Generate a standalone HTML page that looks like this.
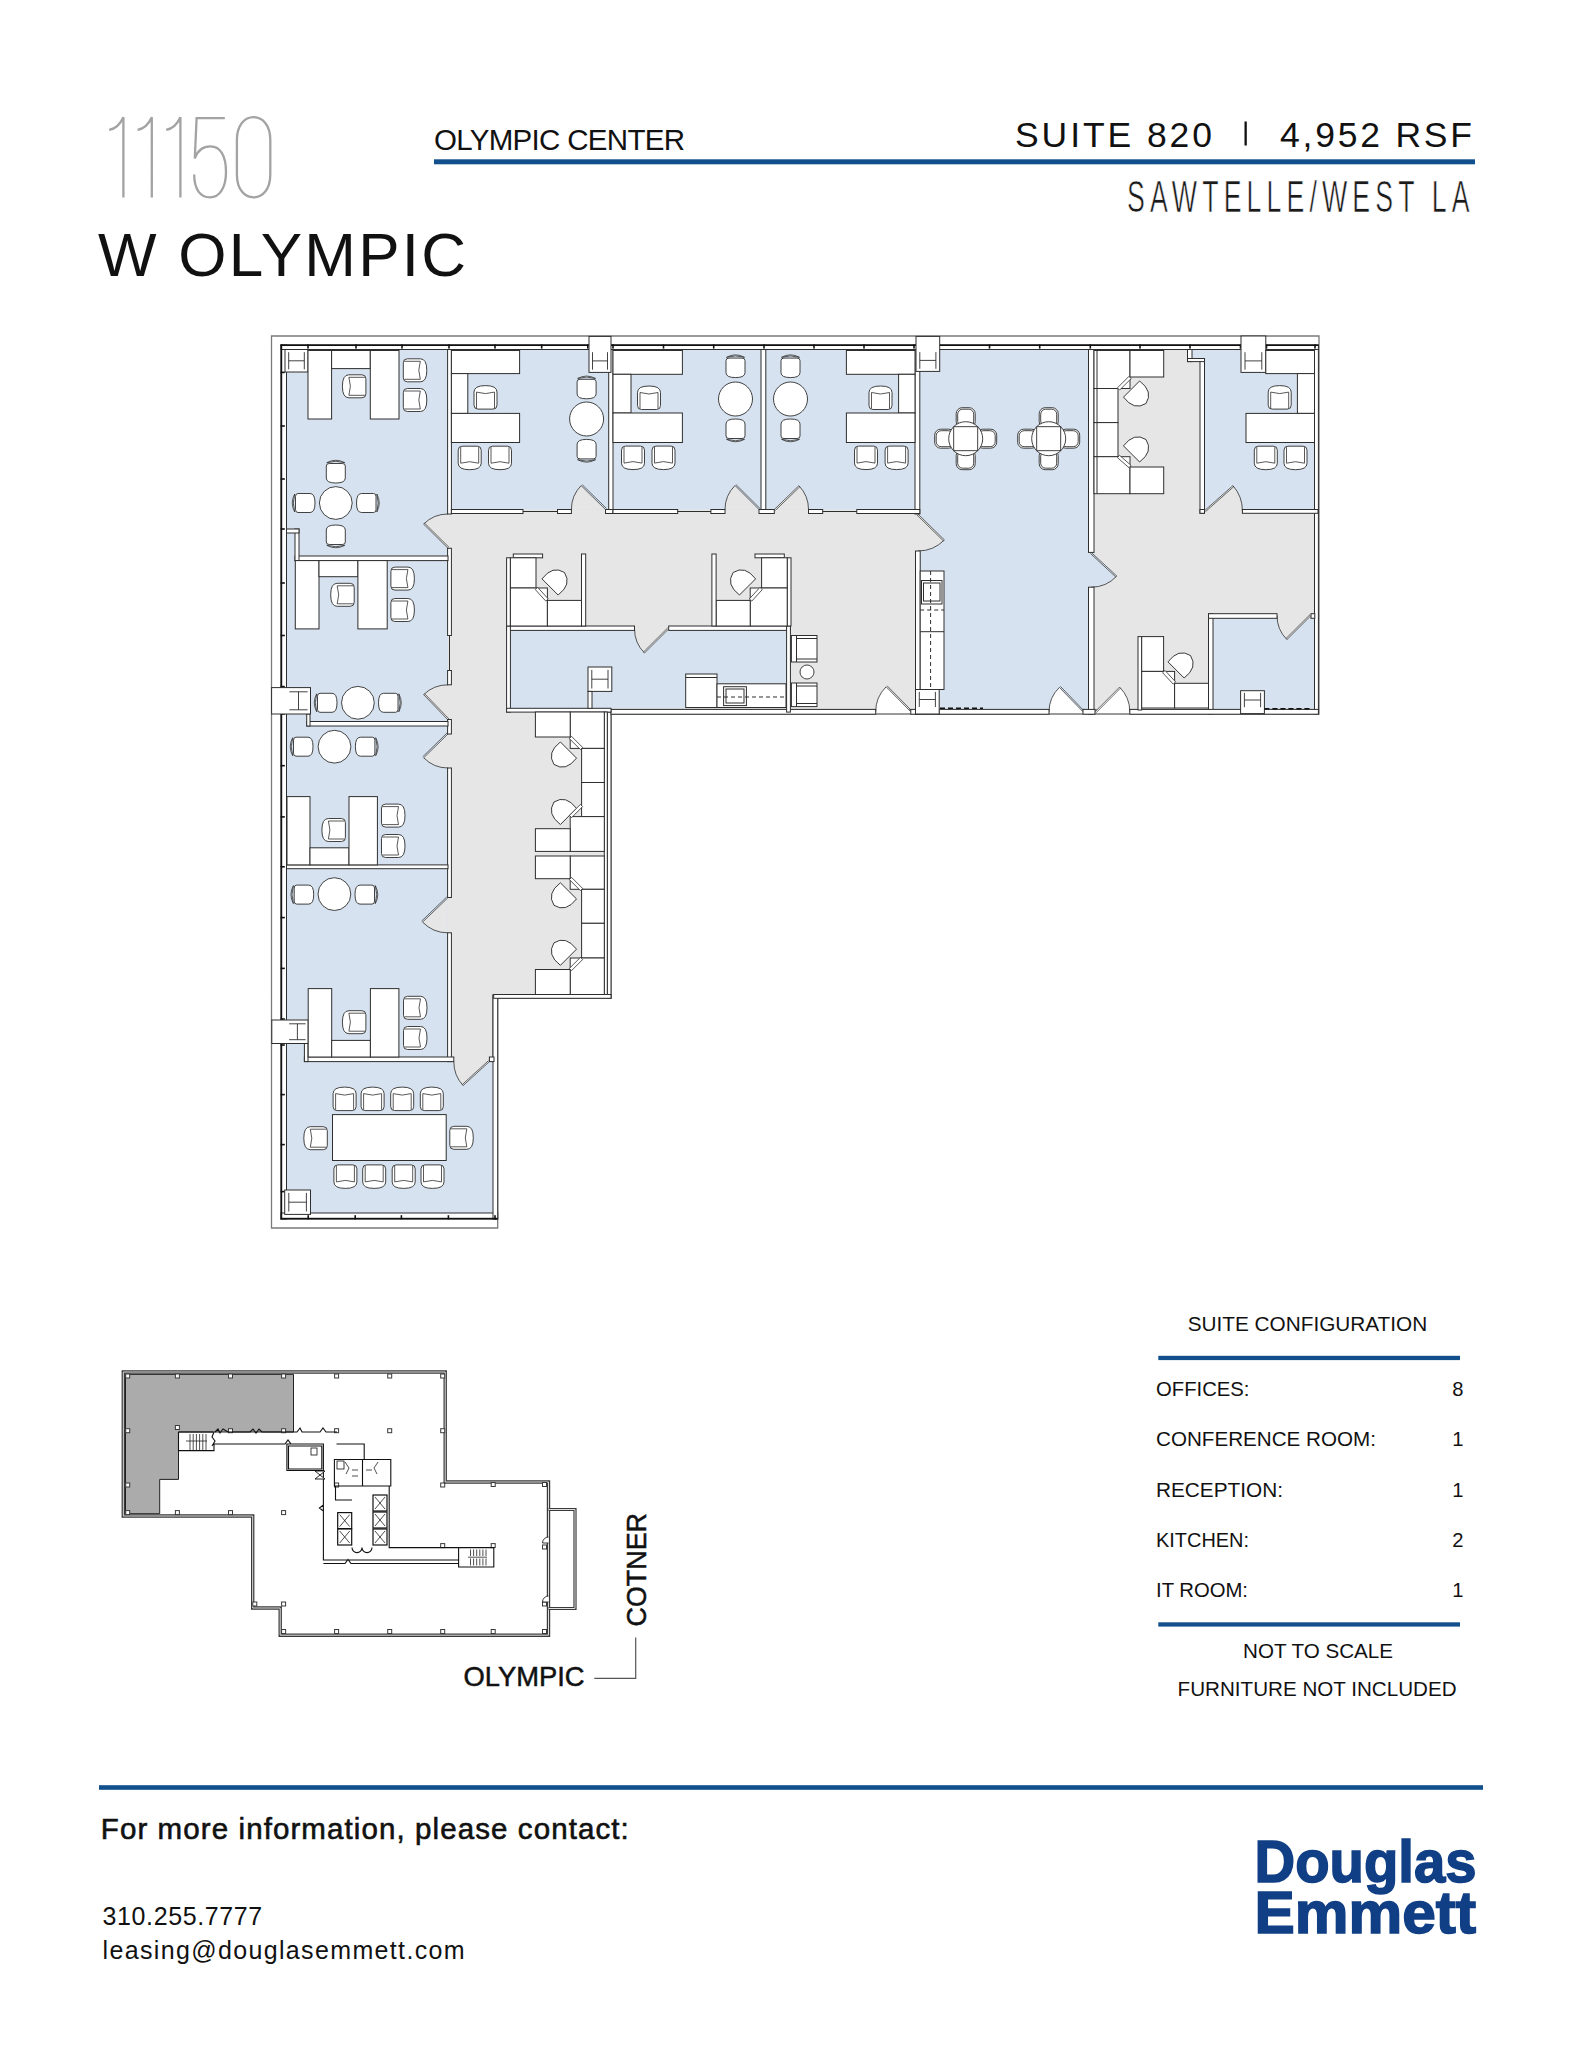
<!DOCTYPE html>
<html><head><meta charset="utf-8"><title>11150 W Olympic - Suite 820</title>
<style>html,body{margin:0;padding:0;background:#fff;width:1583px;height:2048px;overflow:hidden}svg{display:block}</style>
</head><body>
<svg width="1583" height="2048" viewBox="0 0 1583 2048">
<path d="M123.4,197.4 L123.4,117.2 C119.4,126 114.4,129 109.2,129.8 M151.8,197.4 L151.8,117.2 C147.8,126 142.8,129 137.6,129.8 M180.4,197.4 L180.4,117.2 C176.4,126 171.4,129 166.2,129.8 M224.8,118.2 L196.6,118.2 L194.8,158.5 C198,149 204,146.3 210.4,146.3 C220.5,146.3 226,156 226,172 C226,188 219.5,197.4 210,197.4 C200,197.4 194.2,189 194.2,174.6 M253.6,117.2 C262.5,117.2 270.3,125 270.3,140 L270.3,174.5 C270.3,189.5 262.5,197.4 253.6,197.4 C244.7,197.4 236.9,189.5 236.9,174.5 L236.9,140 C236.9,125 244.7,117.2 253.6,117.2 Z" fill="none" stroke="#a3a3a3" stroke-width="2.3"/>
<text x="98" y="276" font-family="Liberation Sans, sans-serif" font-size="62" textLength="368" lengthAdjust="spacing" fill="#111">W OLYMPIC</text>
<text x="434" y="149.8" font-family="Liberation Sans, sans-serif" font-size="29.5" textLength="251" lengthAdjust="spacing" fill="#111">OLYMPIC CENTER</text>
<rect x="434" y="159.3" width="1041" height="5" fill="#11508c"/>
<text x="1015" y="146.5" font-family="Liberation Sans, sans-serif" font-size="35.5" textLength="197" lengthAdjust="spacing" fill="#111">SUITE 820</text>
<rect x="1244.5" y="121.5" width="2.3" height="24" fill="#111"/>
<text x="1280" y="146.5" font-family="Liberation Sans, sans-serif" font-size="35.5" textLength="192" lengthAdjust="spacing" fill="#111">4,952 RSF</text>
<text transform="translate(1127,211.5) scale(0.6,1)" x="0" y="0" font-family="Liberation Sans, sans-serif" font-size="44.5" textLength="570.8" lengthAdjust="spacing" fill="#1a1a1a" stroke="#fff" stroke-width="0.7">SAWTELLE/WEST LA</text>
<text x="1187.7" y="1330.5" font-family="Liberation Sans, sans-serif" font-size="20.2" textLength="239.5" lengthAdjust="spacingAndGlyphs" fill="#111">SUITE CONFIGURATION</text>
<rect x="1158.3" y="1355.8" width="301.7" height="4.3" fill="#11508c"/>
<text x="1156" y="1396.2" font-family="Liberation Sans, sans-serif" font-size="20.2" textLength="93.5" lengthAdjust="spacingAndGlyphs" fill="#111">OFFICES:</text>
<text x="1463.5" y="1396.2" font-family="Liberation Sans, sans-serif" font-size="20.2" text-anchor="end" fill="#111">8</text>
<text x="1156" y="1446.2" font-family="Liberation Sans, sans-serif" font-size="20.2" textLength="220" lengthAdjust="spacingAndGlyphs" fill="#111">CONFERENCE ROOM:</text>
<text x="1463.5" y="1446.2" font-family="Liberation Sans, sans-serif" font-size="20.2" text-anchor="end" fill="#111">1</text>
<text x="1156" y="1496.6" font-family="Liberation Sans, sans-serif" font-size="20.2" textLength="127" lengthAdjust="spacingAndGlyphs" fill="#111">RECEPTION:</text>
<text x="1463.5" y="1496.6" font-family="Liberation Sans, sans-serif" font-size="20.2" text-anchor="end" fill="#111">1</text>
<text x="1156" y="1546.8" font-family="Liberation Sans, sans-serif" font-size="20.2" textLength="93" lengthAdjust="spacingAndGlyphs" fill="#111">KITCHEN:</text>
<text x="1463.5" y="1546.8" font-family="Liberation Sans, sans-serif" font-size="20.2" text-anchor="end" fill="#111">2</text>
<text x="1156" y="1596.8" font-family="Liberation Sans, sans-serif" font-size="20.2" textLength="92" lengthAdjust="spacingAndGlyphs" fill="#111">IT ROOM:</text>
<text x="1463.5" y="1596.8" font-family="Liberation Sans, sans-serif" font-size="20.2" text-anchor="end" fill="#111">1</text>
<rect x="1158.3" y="1622.3" width="301.7" height="4.3" fill="#11508c"/>
<text x="1243" y="1658" font-family="Liberation Sans, sans-serif" font-size="20.2" textLength="150" lengthAdjust="spacingAndGlyphs" fill="#111">NOT TO SCALE</text>
<text x="1177.6" y="1695.7" font-family="Liberation Sans, sans-serif" font-size="20.2" textLength="279" lengthAdjust="spacingAndGlyphs" fill="#111">FURNITURE NOT INCLUDED</text>
<text x="463.6" y="1686.2" font-family="Liberation Sans, sans-serif" font-size="28" textLength="121" lengthAdjust="spacingAndGlyphs" fill="#111" stroke="#111" stroke-width="0.5">OLYMPIC</text>
<text transform="translate(645.7,1626.5) rotate(-90)" x="0" y="0" font-family="Liberation Sans, sans-serif" font-size="28" textLength="113.5" lengthAdjust="spacingAndGlyphs" fill="#111" stroke="#111" stroke-width="0.5">COTNER</text>
<path d="M594.3,1678.3 L635.7,1678.3 L635.7,1637.6" fill="none" stroke="#555" stroke-width="1.2"/>
<rect x="99" y="1785.2" width="1384" height="4.6" fill="#11508c"/>
<text x="100.8" y="1839" font-family="Liberation Sans, sans-serif" font-size="29.5" textLength="528" lengthAdjust="spacing" fill="#111" stroke="#111" stroke-width="0.6">For more information, please contact:</text>
<text x="102.6" y="1924.8" font-family="Liberation Sans, sans-serif" font-size="25" textLength="159.5" lengthAdjust="spacing" fill="#111">310.255.7777</text>
<text x="102.6" y="1959" font-family="Liberation Sans, sans-serif" font-size="25" textLength="362" lengthAdjust="spacing" fill="#111">leasing@douglasemmett.com</text>
<text x="1254.5" y="1882.2" font-family="Liberation Sans, sans-serif" font-size="60" font-weight="bold" textLength="222" lengthAdjust="spacingAndGlyphs" fill="#113f85" stroke="#113f85" stroke-width="1.6">Douglas</text>
<text x="1254.5" y="1933" font-family="Liberation Sans, sans-serif" font-size="60" font-weight="bold" textLength="221.5" lengthAdjust="spacingAndGlyphs" fill="#113f85" stroke="#113f85" stroke-width="1.6">Emmett</text>
<polygon points="271.5,336.0 1319.0,336.0 1319.0,714.0 611.0,714.0 611.0,998.3 497.7,998.3 497.7,1228.0 271.5,1228.0" fill="#fff" stroke="#7a7a7a" stroke-width="1.3"/>
<polygon points="286.5,349.5 1314.5,349.5 1314.5,710.0 607.3,710.0 607.3,994.5 493.0,994.5 493.0,1213.0 286.5,1213.0" fill="#e6e6e6" stroke="#2e2e2e" stroke-width="0.9"/>
<rect x="286.5" y="350.0" width="161.5" height="206.0" fill="#d6e2ef"/>
<rect x="286.5" y="533.0" width="161.5" height="189.0" fill="#d6e2ef"/>
<rect x="286.5" y="726.0" width="161.5" height="139.0" fill="#d6e2ef"/>
<rect x="286.5" y="868.7" width="161.5" height="188.3" fill="#d6e2ef"/>
<rect x="286.5" y="1061.6" width="206.5" height="151.4" fill="#d6e2ef"/>
<rect x="451.4" y="350.0" width="157.6" height="159.5" fill="#d6e2ef"/>
<rect x="613.0" y="350.0" width="148.0" height="159.5" fill="#d6e2ef"/>
<rect x="765.8" y="350.0" width="149.2" height="159.5" fill="#d6e2ef"/>
<rect x="919.8" y="350.0" width="168.7" height="360.0" fill="#d6e2ef"/>
<rect x="510.4" y="630.4" width="276.2" height="77.9" fill="#d6e2ef"/>
<rect x="1213.0" y="618.3" width="101.5" height="91.7" fill="#d6e2ef"/>
<rect x="286.5" y="714.0" width="20.2" height="12.0" fill="#d6e2ef"/>
<rect x="286.5" y="1043.5" width="17.9" height="18.1" fill="#d6e2ef"/>
<polygon points="1192.0,350.0 1314.5,350.0 1314.5,509.5 1204.5,509.5 1204.5,361.6 1192.0,361.6" fill="#d6e2ef" stroke="none" stroke-width="1.0"/>
<path d="M448.0,548.3 L423.6,524.1 A34.3,34.3 0 0 1 448.0,514.0 Z" fill="#e6e6e6" stroke="none"/>
<path d="M423.6,524.1 A34.3,34.3 0 0 1 448.0,514.0" fill="none" stroke="#2e2e2e" stroke-width="0.8"/>
<path d="M448.0,548.3 L423.6,524.1 M449.0,547.3 L424.6,523.2" fill="none" stroke="#2e2e2e" stroke-width="0.7"/>
<path d="M448.0,720.0 L423.6,694.6 A35.2,35.2 0 0 1 448.0,684.8 Z" fill="#e6e6e6" stroke="none"/>
<path d="M423.6,694.6 A35.2,35.2 0 0 1 448.0,684.8" fill="none" stroke="#2e2e2e" stroke-width="0.8"/>
<path d="M448.0,720.0 L423.6,694.6 M449.0,719.0 L424.6,693.7" fill="none" stroke="#2e2e2e" stroke-width="0.7"/>
<path d="M448.0,734.0 L423.7,757.8 A34.0,34.0 0 0 0 448.0,768.0 Z" fill="#e6e6e6" stroke="none"/>
<path d="M423.7,757.8 A34.0,34.0 0 0 0 448.0,768.0" fill="none" stroke="#2e2e2e" stroke-width="0.8"/>
<path d="M448.0,734.0 L423.7,757.8 M447.0,733.0 L422.7,756.8" fill="none" stroke="#2e2e2e" stroke-width="0.7"/>
<path d="M447.7,898.0 L422.6,922.1 A34.8,34.8 0 0 0 447.7,932.8 Z" fill="#e6e6e6" stroke="none"/>
<path d="M422.6,922.1 A34.8,34.8 0 0 0 447.7,932.8" fill="none" stroke="#2e2e2e" stroke-width="0.8"/>
<path d="M447.7,898.0 L422.6,922.1 M446.7,897.0 L421.6,921.1" fill="none" stroke="#2e2e2e" stroke-width="0.7"/>
<path d="M489.4,1061.6 L463.1,1085.6 A35.6,35.6 0 0 1 453.8,1061.6 Z" fill="#e6e6e6" stroke="none"/>
<path d="M463.1,1085.6 A35.6,35.6 0 0 1 453.8,1061.6" fill="none" stroke="#2e2e2e" stroke-width="0.8"/>
<path d="M489.4,1061.6 L463.1,1085.6 M488.5,1060.6 L462.2,1084.6" fill="none" stroke="#2e2e2e" stroke-width="0.7"/>
<path d="M605.5,509.5 L581.1,485.6 A34.1,34.1 0 0 0 571.4,509.5 Z" fill="#e6e6e6" stroke="none"/>
<path d="M581.1,485.6 A34.1,34.1 0 0 0 571.4,509.5" fill="none" stroke="#2e2e2e" stroke-width="0.8"/>
<path d="M605.5,509.5 L581.1,485.6 M606.5,508.5 L582.1,484.6" fill="none" stroke="#2e2e2e" stroke-width="0.7"/>
<path d="M759.0,509.5 L735.0,485.5 A34.0,34.0 0 0 0 725.0,509.5 Z" fill="#e6e6e6" stroke="none"/>
<path d="M735.0,485.5 A34.0,34.0 0 0 0 725.0,509.5" fill="none" stroke="#2e2e2e" stroke-width="0.8"/>
<path d="M759.0,509.5 L735.0,485.5 M760.0,508.5 L735.9,484.5" fill="none" stroke="#2e2e2e" stroke-width="0.7"/>
<path d="M774.3,509.5 L798.9,485.7 A34.2,34.2 0 0 1 808.5,509.5 Z" fill="#e6e6e6" stroke="none"/>
<path d="M798.9,485.7 A34.2,34.2 0 0 1 808.5,509.5" fill="none" stroke="#2e2e2e" stroke-width="0.8"/>
<path d="M774.3,509.5 L798.9,485.7 M775.3,510.5 L799.9,486.7" fill="none" stroke="#2e2e2e" stroke-width="0.7"/>
<path d="M918.0,514.0 L944.4,539.9 A37.0,37.0 0 0 1 918.0,551.0 Z" fill="#e6e6e6" stroke="none"/>
<path d="M944.4,539.9 A37.0,37.0 0 0 1 918.0,551.0" fill="none" stroke="#2e2e2e" stroke-width="0.8"/>
<path d="M918.0,514.0 L944.4,539.9 M917.0,515.0 L943.4,540.9" fill="none" stroke="#2e2e2e" stroke-width="0.7"/>
<path d="M668.7,628.9 L644.5,653.0 A34.2,34.2 0 0 1 634.5,628.9 Z" fill="#e6e6e6" stroke="none"/>
<path d="M644.5,653.0 A34.2,34.2 0 0 1 634.5,628.9" fill="none" stroke="#2e2e2e" stroke-width="0.8"/>
<path d="M668.7,628.9 L644.5,653.0 M667.7,627.9 L643.5,652.0" fill="none" stroke="#2e2e2e" stroke-width="0.7"/>
<path d="M1204.5,510.7 L1232.9,485.6 A37.9,37.9 0 0 1 1242.4,510.7 Z" fill="#e6e6e6" stroke="none"/>
<path d="M1232.9,485.6 A37.9,37.9 0 0 1 1242.4,510.7" fill="none" stroke="#2e2e2e" stroke-width="0.8"/>
<path d="M1204.5,510.7 L1232.9,485.6 M1205.4,511.7 L1233.8,486.6" fill="none" stroke="#2e2e2e" stroke-width="0.7"/>
<path d="M1311.0,615.6 L1286.9,639.6 A34.0,34.0 0 0 1 1277.0,615.6 Z" fill="#e6e6e6" stroke="none"/>
<path d="M1286.9,639.6 A34.0,34.0 0 0 1 1277.0,615.6" fill="none" stroke="#2e2e2e" stroke-width="0.8"/>
<path d="M1311.0,615.6 L1286.9,639.6 M1310.0,614.6 L1285.9,638.6" fill="none" stroke="#2e2e2e" stroke-width="0.7"/>
<rect x="1088.0" y="552.4" width="6.5" height="34.8" fill="#d6e2ef"/>
<path d="M1091.2,552.4 L1116.8,576.0 A34.8,34.8 0 0 1 1091.2,587.2 Z" fill="#d6e2ef" stroke="none"/>
<path d="M1116.8,576.0 A34.8,34.8 0 0 1 1091.2,587.2" fill="none" stroke="#2e2e2e" stroke-width="0.8"/>
<path d="M1091.2,552.4 L1116.8,576.0 M1090.3,553.4 L1115.8,577.0" fill="none" stroke="#2e2e2e" stroke-width="0.7"/>
<path d="M910.8,711.8 L886.1,686.8 A35.1,35.1 0 0 0 875.7,711.8 Z" fill="#fff" stroke="none"/>
<path d="M886.1,686.8 A35.1,35.1 0 0 0 875.7,711.8" fill="none" stroke="#2e2e2e" stroke-width="0.8"/>
<path d="M910.8,711.8 L886.1,686.8 M911.8,710.8 L887.1,685.8" fill="none" stroke="#2e2e2e" stroke-width="0.7"/>
<path d="M1083.0,711.8 L1059.4,687.4 A34.0,34.0 0 0 0 1049.0,711.8 Z" fill="#fff" stroke="none"/>
<path d="M1059.4,687.4 A34.0,34.0 0 0 0 1049.0,711.8" fill="none" stroke="#2e2e2e" stroke-width="0.8"/>
<path d="M1083.0,711.8 L1059.4,687.4 M1084.0,710.8 L1060.4,686.4" fill="none" stroke="#2e2e2e" stroke-width="0.7"/>
<path d="M1095.0,711.8 L1119.6,687.1 A34.8,34.8 0 0 1 1129.8,711.8 Z" fill="#fff" stroke="none"/>
<path d="M1119.6,687.1 A34.8,34.8 0 0 1 1129.8,711.8" fill="none" stroke="#2e2e2e" stroke-width="0.8"/>
<path d="M1095.0,711.8 L1119.6,687.1 M1096.0,712.8 L1120.5,688.1" fill="none" stroke="#2e2e2e" stroke-width="0.7"/>
<rect x="281.0" y="345.0" width="5.5" height="874.0" fill="#fff" stroke="#2e2e2e" stroke-width="1.0" />
<rect x="281.0" y="345.0" width="1037.4" height="4.5" fill="#fff" stroke="#2e2e2e" stroke-width="1.0" />
<rect x="281.0" y="1213.0" width="216.7" height="6.0" fill="#fff" stroke="#2e2e2e" stroke-width="1.0" />
<rect x="447.6" y="349.5" width="3.8" height="164.5" fill="#fff" stroke="#2e2e2e" stroke-width="1.0" />
<rect x="447.6" y="548.3" width="3.8" height="87.2" fill="#fff" stroke="#2e2e2e" stroke-width="1.0" />
<rect x="447.6" y="670.5" width="3.8" height="14.3" fill="#fff" stroke="#2e2e2e" stroke-width="1.0" />
<rect x="447.6" y="719.5" width="3.8" height="14.5" fill="#fff" stroke="#2e2e2e" stroke-width="1.0" />
<rect x="447.6" y="768.0" width="3.8" height="129.5" fill="#fff" stroke="#2e2e2e" stroke-width="1.0" />
<rect x="447.6" y="932.8" width="3.8" height="128.8" fill="#fff" stroke="#2e2e2e" stroke-width="1.0" />
<rect x="608.7" y="349.5" width="4.3" height="164.0" fill="#fff" stroke="#2e2e2e" stroke-width="1.0" />
<rect x="761.0" y="349.5" width="4.8" height="164.0" fill="#fff" stroke="#2e2e2e" stroke-width="1.0" />
<rect x="915.0" y="349.5" width="4.8" height="164.5" fill="#fff" stroke="#2e2e2e" stroke-width="1.0" />
<rect x="915.5" y="551.0" width="4.7" height="163.0" fill="#fff" stroke="#2e2e2e" stroke-width="1.0" />
<rect x="1088.5" y="349.5" width="5.5" height="202.9" fill="#fff" stroke="#2e2e2e" stroke-width="1.0" />
<rect x="1088.5" y="587.2" width="5.5" height="126.8" fill="#fff" stroke="#2e2e2e" stroke-width="1.0" />
<rect x="1200.0" y="358.5" width="4.5" height="154.8" fill="#fff" stroke="#2e2e2e" stroke-width="1.0" />
<rect x="1187.5" y="349.5" width="4.5" height="12.1" fill="#fff" stroke="#2e2e2e" stroke-width="1.0" />
<rect x="1208.5" y="613.7" width="4.5" height="100.3" fill="#fff" stroke="#2e2e2e" stroke-width="1.0" />
<rect x="1314.5" y="349.5" width="3.9" height="364.5" fill="#fff" stroke="#2e2e2e" stroke-width="1.0" />
<rect x="493.0" y="995.0" width="4.7" height="224.0" fill="#fff" stroke="#2e2e2e" stroke-width="1.0" />
<rect x="607.3" y="712.0" width="3.7" height="286.3" fill="#fff" stroke="#2e2e2e" stroke-width="1.0" />
<rect x="1187.5" y="358.5" width="17.0" height="3.1" fill="#fff" stroke="#2e2e2e" stroke-width="1.0" />
<line x1="449.5" y1="635.5" x2="449.5" y2="670.5" stroke="#2e2e2e" stroke-width="1.0" />
<rect x="295.0" y="556.0" width="153.0" height="4.6" fill="#fff" stroke="#2e2e2e" stroke-width="1.0" />
<rect x="295.0" y="529.0" width="4.0" height="31.6" fill="#fff" stroke="#2e2e2e" stroke-width="1.0" />
<rect x="286.5" y="529.0" width="12.5" height="4.0" fill="#fff" stroke="#2e2e2e" stroke-width="1.0" />
<rect x="306.7" y="721.5" width="141.3" height="4.5" fill="#fff" stroke="#2e2e2e" stroke-width="1.0" />
<rect x="306.7" y="714.0" width="3.3" height="12.0" fill="#fff" stroke="#2e2e2e" stroke-width="1.0" />
<rect x="286.5" y="864.9" width="161.5" height="3.8" fill="#fff" stroke="#2e2e2e" stroke-width="1.0" />
<rect x="304.4" y="1057.0" width="149.4" height="4.6" fill="#fff" stroke="#2e2e2e" stroke-width="1.0" />
<rect x="304.4" y="1043.5" width="3.6" height="18.1" fill="#fff" stroke="#2e2e2e" stroke-width="1.0" />
<rect x="489.4" y="1057.0" width="4.6" height="4.6" fill="#fff" stroke="#2e2e2e" stroke-width="1.0" />
<rect x="451.4" y="509.5" width="71.6" height="4.0" fill="#fff" stroke="#2e2e2e" stroke-width="1.0" />
<rect x="557.5" y="509.5" width="13.9" height="4.0" fill="#fff" stroke="#2e2e2e" stroke-width="1.0" />
<rect x="605.5" y="509.5" width="7.5" height="4.0" fill="#fff" stroke="#2e2e2e" stroke-width="1.0" />
<rect x="613.0" y="509.5" width="64.7" height="4.0" fill="#fff" stroke="#2e2e2e" stroke-width="1.0" />
<rect x="710.9" y="509.5" width="14.1" height="4.0" fill="#fff" stroke="#2e2e2e" stroke-width="1.0" />
<rect x="759.0" y="509.5" width="15.3" height="4.0" fill="#fff" stroke="#2e2e2e" stroke-width="1.0" />
<rect x="808.5" y="509.5" width="14.2" height="4.0" fill="#fff" stroke="#2e2e2e" stroke-width="1.0" />
<rect x="856.8" y="509.5" width="63.0" height="4.0" fill="#fff" stroke="#2e2e2e" stroke-width="1.0" />
<rect x="1242.4" y="509.5" width="75.6" height="3.8" fill="#fff" stroke="#2e2e2e" stroke-width="1.0" />
<rect x="1200.0" y="509.5" width="4.5" height="3.8" fill="#fff" stroke="#2e2e2e" stroke-width="1.0" />
<rect x="1208.5" y="613.7" width="68.5" height="4.6" fill="#fff" stroke="#2e2e2e" stroke-width="1.0" />
<rect x="1311.0" y="613.7" width="3.8" height="4.6" fill="#fff" stroke="#2e2e2e" stroke-width="1.0" />
<rect x="611.0" y="709.4" width="264.7" height="4.8" fill="#fff" stroke="#2e2e2e" stroke-width="1.0" />
<rect x="910.8" y="709.4" width="28.4" height="4.8" fill="#fff" stroke="#2e2e2e" stroke-width="1.0" />
<rect x="939.0" y="709.4" width="110.0" height="4.8" fill="#fff" stroke="#2e2e2e" stroke-width="1.0" />
<rect x="1083.0" y="709.4" width="12.0" height="4.8" fill="#fff" stroke="#2e2e2e" stroke-width="1.0" />
<rect x="1129.8" y="709.4" width="188.6" height="4.8" fill="#fff" stroke="#2e2e2e" stroke-width="1.0" />
<rect x="506.6" y="626.0" width="127.9" height="4.4" fill="#fff" stroke="#2e2e2e" stroke-width="1.0" />
<rect x="668.7" y="626.0" width="121.7" height="4.4" fill="#fff" stroke="#2e2e2e" stroke-width="1.0" />
<rect x="506.6" y="626.0" width="3.8" height="86.1" fill="#fff" stroke="#2e2e2e" stroke-width="1.0" />
<rect x="786.6" y="626.0" width="3.8" height="86.1" fill="#fff" stroke="#2e2e2e" stroke-width="1.0" />
<rect x="506.6" y="708.3" width="104.4" height="3.8" fill="#fff" stroke="#2e2e2e" stroke-width="1.0" />
<rect x="493.7" y="994.5" width="117.3" height="3.8" fill="#fff" stroke="#2e2e2e" stroke-width="1.0" />
<line x1="523.0" y1="511.5" x2="557.5" y2="511.5" stroke="#2e2e2e" stroke-width="1.0" />
<line x1="677.7" y1="511.5" x2="710.9" y2="511.5" stroke="#2e2e2e" stroke-width="1.0" />
<line x1="822.7" y1="511.5" x2="856.8" y2="511.5" stroke="#2e2e2e" stroke-width="1.0" />
<rect x="280.6" y="344.4" width="1038.0" height="1.6" fill="#111"/>
<rect x="280.6" y="344.4" width="1.6" height="875.0" fill="#111"/>
<rect x="280.6" y="1217.8" width="216.9" height="1.6" fill="#111"/>
<rect x="307.2" y="344.4" width="1.6" height="4.2" fill="#111"/>
<rect x="355.2" y="344.4" width="1.6" height="4.2" fill="#111"/>
<rect x="401.2" y="344.4" width="1.6" height="4.2" fill="#111"/>
<rect x="448.2" y="344.4" width="1.6" height="4.2" fill="#111"/>
<rect x="494.2" y="344.4" width="1.6" height="4.2" fill="#111"/>
<rect x="540.9" y="344.4" width="1.6" height="4.2" fill="#111"/>
<rect x="587.0" y="344.4" width="1.6" height="4.2" fill="#111"/>
<rect x="612.2" y="344.4" width="1.6" height="4.2" fill="#111"/>
<rect x="662.7" y="344.4" width="1.6" height="4.2" fill="#111"/>
<rect x="712.9" y="344.4" width="1.6" height="4.2" fill="#111"/>
<rect x="763.2" y="344.4" width="1.6" height="4.2" fill="#111"/>
<rect x="813.2" y="344.4" width="1.6" height="4.2" fill="#111"/>
<rect x="863.2" y="344.4" width="1.6" height="4.2" fill="#111"/>
<rect x="913.2" y="344.4" width="1.6" height="4.2" fill="#111"/>
<rect x="988.7" y="344.4" width="1.6" height="4.2" fill="#111"/>
<rect x="1038.9" y="344.4" width="1.6" height="4.2" fill="#111"/>
<rect x="1089.5" y="344.4" width="1.6" height="4.2" fill="#111"/>
<rect x="1139.2" y="344.4" width="1.6" height="4.2" fill="#111"/>
<rect x="1189.2" y="344.4" width="1.6" height="4.2" fill="#111"/>
<rect x="1239.7" y="344.4" width="1.6" height="4.2" fill="#111"/>
<rect x="1265.7" y="344.4" width="1.6" height="4.2" fill="#111"/>
<rect x="1314.2" y="344.4" width="1.6" height="4.2" fill="#111"/>
<rect x="280.6" y="371.6" width="4.2" height="1.6" fill="#111"/>
<rect x="280.6" y="425.2" width="4.2" height="1.6" fill="#111"/>
<rect x="280.6" y="478.2" width="4.2" height="1.6" fill="#111"/>
<rect x="280.6" y="528.2" width="4.2" height="1.6" fill="#111"/>
<rect x="280.6" y="582.2" width="4.2" height="1.6" fill="#111"/>
<rect x="280.6" y="634.7" width="4.2" height="1.6" fill="#111"/>
<rect x="280.6" y="685.8" width="4.2" height="1.6" fill="#111"/>
<rect x="280.6" y="713.2" width="4.2" height="1.6" fill="#111"/>
<rect x="280.6" y="764.9" width="4.2" height="1.6" fill="#111"/>
<rect x="280.6" y="816.1" width="4.2" height="1.6" fill="#111"/>
<rect x="280.6" y="866.0" width="4.2" height="1.6" fill="#111"/>
<rect x="280.6" y="916.8" width="4.2" height="1.6" fill="#111"/>
<rect x="280.6" y="967.6" width="4.2" height="1.6" fill="#111"/>
<rect x="280.6" y="1018.2" width="4.2" height="1.6" fill="#111"/>
<rect x="280.6" y="1044.2" width="4.2" height="1.6" fill="#111"/>
<rect x="280.6" y="1093.8" width="4.2" height="1.6" fill="#111"/>
<rect x="280.6" y="1143.8" width="4.2" height="1.6" fill="#111"/>
<rect x="280.6" y="1190.8" width="4.2" height="1.6" fill="#111"/>
<rect x="307.4" y="1215.2" width="1.6" height="4.2" fill="#111"/>
<rect x="354.4" y="1215.2" width="1.6" height="4.2" fill="#111"/>
<rect x="400.6" y="1215.2" width="1.6" height="4.2" fill="#111"/>
<rect x="447.6" y="1215.2" width="1.6" height="4.2" fill="#111"/>
<rect x="494.2" y="1215.2" width="1.6" height="4.2" fill="#111"/>
<rect x="589.0" y="336.4" width="22.0" height="36.0" fill="#fff" stroke="#2e2e2e" stroke-width="1.0" />
<path d="M592.5,352.2 L592.5,369.7 M607.5,352.2 L607.5,369.7 M592.5,360.9 L607.5,360.9" stroke="#2e2e2e" stroke-width="0.9" fill="none"/>
<rect x="916.0" y="336.4" width="23.7" height="35.0" fill="#fff" stroke="#2e2e2e" stroke-width="1.0" />
<path d="M919.8,352.1 L919.8,368.8 M935.9,352.1 L935.9,368.8 M919.8,360.4 L935.9,360.4" stroke="#2e2e2e" stroke-width="0.9" fill="none"/>
<rect x="1241.0" y="336.0" width="24.8" height="36.4" fill="#fff" stroke="#2e2e2e" stroke-width="1.0" />
<path d="M1245.0,352.2 L1245.0,369.7 M1261.8,352.2 L1261.8,369.7 M1245.0,360.9 L1261.8,360.9" stroke="#2e2e2e" stroke-width="0.9" fill="none"/>
<rect x="285.0" y="349.5" width="23.0" height="22.5" fill="#fff" stroke="#2e2e2e" stroke-width="1.0" />
<path d="M288.7,352.2 L288.7,369.3 M304.3,352.2 L304.3,369.3 M288.7,360.8 L304.3,360.8" stroke="#2e2e2e" stroke-width="0.9" fill="none"/>
<rect x="271.6" y="687.6" width="38.9" height="26.4" fill="#fff" stroke="#2e2e2e" stroke-width="1.0" />
<path d="M289.4,691.8 L307.6,691.8 M289.4,709.8 L307.6,709.8 M298.5,691.8 L298.5,709.8" stroke="#2e2e2e" stroke-width="0.9" fill="none"/>
<rect x="271.8" y="1020.0" width="36.4" height="23.5" fill="#fff" stroke="#2e2e2e" stroke-width="1.0" />
<path d="M289.1,1023.8 L305.6,1023.8 M289.1,1039.7 L305.6,1039.7 M297.4,1023.8 L297.4,1039.7" stroke="#2e2e2e" stroke-width="0.9" fill="none"/>
<rect x="284.7" y="1190.0" width="25.8" height="24.4" fill="#fff" stroke="#2e2e2e" stroke-width="1.0" />
<path d="M288.8,1192.9 L288.8,1211.5 M306.4,1192.9 L306.4,1211.5 M288.8,1202.2 L306.4,1202.2" stroke="#2e2e2e" stroke-width="0.9" fill="none"/>
<rect x="915.5" y="689.5" width="23.7" height="24.5" fill="#fff" stroke="#2e2e2e" stroke-width="1.0" />
<path d="M919.3,691.9 L919.3,707.0 M935.4,691.9 L935.4,707.0 M919.3,699.5 L935.4,699.5" stroke="#2e2e2e" stroke-width="0.9" fill="none"/>
<rect x="1240.6" y="690.7" width="23.8" height="22.9" fill="#fff" stroke="#2e2e2e" stroke-width="1.0" />
<path d="M1244.4,692.9 L1244.4,707.2 M1260.6,692.9 L1260.6,707.2 M1244.4,700.0 L1260.6,700.0" stroke="#2e2e2e" stroke-width="0.9" fill="none"/>
<rect x="308.0" y="350.5" width="23.6" height="68.5" fill="#fff" stroke="#2e2e2e" stroke-width="1.0" />
<rect x="331.6" y="350.5" width="38.7" height="18.1" fill="#fff" stroke="#2e2e2e" stroke-width="1.0" />
<rect x="370.3" y="350.5" width="28.7" height="68.5" fill="#fff" stroke="#2e2e2e" stroke-width="1.0" />
<rect x="295.3" y="560.6" width="23.7" height="68.3" fill="#fff" stroke="#2e2e2e" stroke-width="1.0" />
<rect x="319.0" y="560.6" width="38.9" height="16.1" fill="#fff" stroke="#2e2e2e" stroke-width="1.0" />
<rect x="357.9" y="560.6" width="29.3" height="68.3" fill="#fff" stroke="#2e2e2e" stroke-width="1.0" />
<rect x="287.0" y="796.6" width="23.0" height="68.3" fill="#fff" stroke="#2e2e2e" stroke-width="1.0" />
<rect x="310.0" y="847.8" width="39.0" height="17.1" fill="#fff" stroke="#2e2e2e" stroke-width="1.0" />
<rect x="349.0" y="796.6" width="28.4" height="68.3" fill="#fff" stroke="#2e2e2e" stroke-width="1.0" />
<rect x="308.2" y="988.6" width="23.5" height="68.4" fill="#fff" stroke="#2e2e2e" stroke-width="1.0" />
<rect x="331.7" y="1040.4" width="38.7" height="16.6" fill="#fff" stroke="#2e2e2e" stroke-width="1.0" />
<rect x="370.4" y="988.6" width="28.5" height="68.4" fill="#fff" stroke="#2e2e2e" stroke-width="1.0" />
<rect x="332.5" y="1114.6" width="113.7" height="45.9" fill="#fff" stroke="#2e2e2e" stroke-width="1.0" />
<rect x="451.4" y="350.5" width="68.2" height="23.1" fill="#fff" stroke="#2e2e2e" stroke-width="1.0" />
<rect x="451.4" y="373.6" width="16.4" height="39.8" fill="#fff" stroke="#2e2e2e" stroke-width="1.0" />
<rect x="451.4" y="413.4" width="68.2" height="29.1" fill="#fff" stroke="#2e2e2e" stroke-width="1.0" />
<rect x="613.0" y="350.5" width="69.4" height="23.8" fill="#fff" stroke="#2e2e2e" stroke-width="1.0" />
<rect x="613.0" y="374.3" width="18.0" height="38.7" fill="#fff" stroke="#2e2e2e" stroke-width="1.0" />
<rect x="613.0" y="413.0" width="69.4" height="29.5" fill="#fff" stroke="#2e2e2e" stroke-width="1.0" />
<rect x="846.4" y="350.5" width="68.6" height="23.8" fill="#fff" stroke="#2e2e2e" stroke-width="1.0" />
<rect x="898.6" y="374.3" width="16.4" height="38.7" fill="#fff" stroke="#2e2e2e" stroke-width="1.0" />
<rect x="846.4" y="413.0" width="68.6" height="29.5" fill="#fff" stroke="#2e2e2e" stroke-width="1.0" />
<rect x="1265.8" y="350.5" width="48.7" height="23.1" fill="#fff" stroke="#2e2e2e" stroke-width="1.0" />
<rect x="1297.4" y="373.6" width="17.1" height="39.8" fill="#fff" stroke="#2e2e2e" stroke-width="1.0" />
<rect x="1246.0" y="413.4" width="68.5" height="29.1" fill="#fff" stroke="#2e2e2e" stroke-width="1.0" />
<g transform="translate(354.4,386.3) rotate(-90)" fill="#fff" stroke="#2e2e2e" stroke-width="0.9"><path d="M-11.5,-5.5 Q-11.5,-12.0 0,-12.0 Q11.5,-12.0 11.5,-5.5 L11.5,7.5 Q11.5,11.5 7.5,11.5 L-7.5,11.5 Q-11.5,11.5 -11.5,7.5 Z"/><path d="M-9.0,-5.5 L-9.0,10.5 M9.0,-5.5 L9.0,10.5 M-9.0,-5.5 Q0,-2.5 9.0,-5.5" fill="none" stroke-width="0.8"/></g>
<g transform="translate(414.8,370.3) rotate(90)" fill="#fff" stroke="#2e2e2e" stroke-width="0.9"><path d="M-11.5,-5.5 Q-11.5,-12.0 0,-12.0 Q11.5,-12.0 11.5,-5.5 L11.5,7.5 Q11.5,11.5 7.5,11.5 L-7.5,11.5 Q-11.5,11.5 -11.5,7.5 Z"/><path d="M-9.0,-5.5 L-9.0,10.5 M9.0,-5.5 L9.0,10.5 M-9.0,-5.5 Q0,-2.5 9.0,-5.5" fill="none" stroke-width="0.8"/></g>
<g transform="translate(414.8,400.0) rotate(90)" fill="#fff" stroke="#2e2e2e" stroke-width="0.9"><path d="M-11.5,-5.5 Q-11.5,-12.0 0,-12.0 Q11.5,-12.0 11.5,-5.5 L11.5,7.5 Q11.5,11.5 7.5,11.5 L-7.5,11.5 Q-11.5,11.5 -11.5,7.5 Z"/><path d="M-9.0,-5.5 L-9.0,10.5 M9.0,-5.5 L9.0,10.5 M-9.0,-5.5 Q0,-2.5 9.0,-5.5" fill="none" stroke-width="0.8"/></g>
<circle cx="335.8" cy="503.0" r="16.4" fill="#fff" stroke="#2e2e2e" stroke-width="0.9"/>
<g transform="translate(335.8,473.0) rotate(0)" fill="#fff" stroke="#2e2e2e" stroke-width="0.9"><path d="M-9.5,-7.0 Q-9.5,-9.5 -6.5,-9.5 L6.5,-9.5 Q9.5,-9.5 9.5,-7.0 L9.5,5.0 Q9.5,10.0 0,10.0 Q-9.5,10.0 -9.5,5.0 Z"/><path d="M-9.0,-10.3 Q0,-13.2 9.0,-10.3 Q0,-15.2 -9.0,-10.3 Z" stroke-width="0.8"/></g>
<g transform="translate(335.8,535.0) rotate(180)" fill="#fff" stroke="#2e2e2e" stroke-width="0.9"><path d="M-9.5,-7.0 Q-9.5,-9.5 -6.5,-9.5 L6.5,-9.5 Q9.5,-9.5 9.5,-7.0 L9.5,5.0 Q9.5,10.0 0,10.0 Q-9.5,10.0 -9.5,5.0 Z"/><path d="M-9.0,-10.3 Q0,-13.2 9.0,-10.3 Q0,-15.2 -9.0,-10.3 Z" stroke-width="0.8"/></g>
<g transform="translate(305.0,503.0) rotate(-90)" fill="#fff" stroke="#2e2e2e" stroke-width="0.9"><path d="M-9.5,-7.0 Q-9.5,-9.5 -6.5,-9.5 L6.5,-9.5 Q9.5,-9.5 9.5,-7.0 L9.5,5.0 Q9.5,10.0 0,10.0 Q-9.5,10.0 -9.5,5.0 Z"/><path d="M-9.0,-10.3 Q0,-13.2 9.0,-10.3 Q0,-15.2 -9.0,-10.3 Z" stroke-width="0.8"/></g>
<g transform="translate(366.5,503.0) rotate(90)" fill="#fff" stroke="#2e2e2e" stroke-width="0.9"><path d="M-9.5,-7.0 Q-9.5,-9.5 -6.5,-9.5 L6.5,-9.5 Q9.5,-9.5 9.5,-7.0 L9.5,5.0 Q9.5,10.0 0,10.0 Q-9.5,10.0 -9.5,5.0 Z"/><path d="M-9.0,-10.3 Q0,-13.2 9.0,-10.3 Q0,-15.2 -9.0,-10.3 Z" stroke-width="0.8"/></g>
<g transform="translate(342.7,594.8) rotate(-90)" fill="#fff" stroke="#2e2e2e" stroke-width="0.9"><path d="M-11.5,-5.5 Q-11.5,-12.0 0,-12.0 Q11.5,-12.0 11.5,-5.5 L11.5,7.5 Q11.5,11.5 7.5,11.5 L-7.5,11.5 Q-11.5,11.5 -11.5,7.5 Z"/><path d="M-9.0,-5.5 L-9.0,10.5 M9.0,-5.5 L9.0,10.5 M-9.0,-5.5 Q0,-2.5 9.0,-5.5" fill="none" stroke-width="0.8"/></g>
<g transform="translate(402.4,578.6) rotate(90)" fill="#fff" stroke="#2e2e2e" stroke-width="0.9"><path d="M-11.5,-5.5 Q-11.5,-12.0 0,-12.0 Q11.5,-12.0 11.5,-5.5 L11.5,7.5 Q11.5,11.5 7.5,11.5 L-7.5,11.5 Q-11.5,11.5 -11.5,7.5 Z"/><path d="M-9.0,-5.5 L-9.0,10.5 M9.0,-5.5 L9.0,10.5 M-9.0,-5.5 Q0,-2.5 9.0,-5.5" fill="none" stroke-width="0.8"/></g>
<g transform="translate(402.4,610.0) rotate(90)" fill="#fff" stroke="#2e2e2e" stroke-width="0.9"><path d="M-11.5,-5.5 Q-11.5,-12.0 0,-12.0 Q11.5,-12.0 11.5,-5.5 L11.5,7.5 Q11.5,11.5 7.5,11.5 L-7.5,11.5 Q-11.5,11.5 -11.5,7.5 Z"/><path d="M-9.0,-5.5 L-9.0,10.5 M9.0,-5.5 L9.0,10.5 M-9.0,-5.5 Q0,-2.5 9.0,-5.5" fill="none" stroke-width="0.8"/></g>
<circle cx="357.9" cy="702.8" r="16.4" fill="#fff" stroke="#2e2e2e" stroke-width="0.9"/>
<g transform="translate(327.0,702.8) rotate(-90)" fill="#fff" stroke="#2e2e2e" stroke-width="0.9"><path d="M-9.5,-7.0 Q-9.5,-9.5 -6.5,-9.5 L6.5,-9.5 Q9.5,-9.5 9.5,-7.0 L9.5,5.0 Q9.5,10.0 0,10.0 Q-9.5,10.0 -9.5,5.0 Z"/><path d="M-9.0,-10.3 Q0,-13.2 9.0,-10.3 Q0,-15.2 -9.0,-10.3 Z" stroke-width="0.8"/></g>
<g transform="translate(388.5,702.8) rotate(90)" fill="#fff" stroke="#2e2e2e" stroke-width="0.9"><path d="M-9.5,-7.0 Q-9.5,-9.5 -6.5,-9.5 L6.5,-9.5 Q9.5,-9.5 9.5,-7.0 L9.5,5.0 Q9.5,10.0 0,10.0 Q-9.5,10.0 -9.5,5.0 Z"/><path d="M-9.0,-10.3 Q0,-13.2 9.0,-10.3 Q0,-15.2 -9.0,-10.3 Z" stroke-width="0.8"/></g>
<circle cx="334.5" cy="746.7" r="16.4" fill="#fff" stroke="#2e2e2e" stroke-width="0.9"/>
<g transform="translate(303.0,746.7) rotate(-90)" fill="#fff" stroke="#2e2e2e" stroke-width="0.9"><path d="M-9.5,-7.0 Q-9.5,-9.5 -6.5,-9.5 L6.5,-9.5 Q9.5,-9.5 9.5,-7.0 L9.5,5.0 Q9.5,10.0 0,10.0 Q-9.5,10.0 -9.5,5.0 Z"/><path d="M-9.0,-10.3 Q0,-13.2 9.0,-10.3 Q0,-15.2 -9.0,-10.3 Z" stroke-width="0.8"/></g>
<g transform="translate(365.4,746.7) rotate(90)" fill="#fff" stroke="#2e2e2e" stroke-width="0.9"><path d="M-9.5,-7.0 Q-9.5,-9.5 -6.5,-9.5 L6.5,-9.5 Q9.5,-9.5 9.5,-7.0 L9.5,5.0 Q9.5,10.0 0,10.0 Q-9.5,10.0 -9.5,5.0 Z"/><path d="M-9.0,-10.3 Q0,-13.2 9.0,-10.3 Q0,-15.2 -9.0,-10.3 Z" stroke-width="0.8"/></g>
<g transform="translate(333.9,830.0) rotate(-90)" fill="#fff" stroke="#2e2e2e" stroke-width="0.9"><path d="M-11.5,-5.5 Q-11.5,-12.0 0,-12.0 Q11.5,-12.0 11.5,-5.5 L11.5,7.5 Q11.5,11.5 7.5,11.5 L-7.5,11.5 Q-11.5,11.5 -11.5,7.5 Z"/><path d="M-9.0,-5.5 L-9.0,10.5 M9.0,-5.5 L9.0,10.5 M-9.0,-5.5 Q0,-2.5 9.0,-5.5" fill="none" stroke-width="0.8"/></g>
<g transform="translate(393.0,815.6) rotate(90)" fill="#fff" stroke="#2e2e2e" stroke-width="0.9"><path d="M-11.5,-5.5 Q-11.5,-12.0 0,-12.0 Q11.5,-12.0 11.5,-5.5 L11.5,7.5 Q11.5,11.5 7.5,11.5 L-7.5,11.5 Q-11.5,11.5 -11.5,7.5 Z"/><path d="M-9.0,-5.5 L-9.0,10.5 M9.0,-5.5 L9.0,10.5 M-9.0,-5.5 Q0,-2.5 9.0,-5.5" fill="none" stroke-width="0.8"/></g>
<g transform="translate(393.0,846.0) rotate(90)" fill="#fff" stroke="#2e2e2e" stroke-width="0.9"><path d="M-11.5,-5.5 Q-11.5,-12.0 0,-12.0 Q11.5,-12.0 11.5,-5.5 L11.5,7.5 Q11.5,11.5 7.5,11.5 L-7.5,11.5 Q-11.5,11.5 -11.5,7.5 Z"/><path d="M-9.0,-5.5 L-9.0,10.5 M9.0,-5.5 L9.0,10.5 M-9.0,-5.5 Q0,-2.5 9.0,-5.5" fill="none" stroke-width="0.8"/></g>
<circle cx="334.4" cy="894.1" r="16.4" fill="#fff" stroke="#2e2e2e" stroke-width="0.9"/>
<g transform="translate(303.7,894.6) rotate(-90)" fill="#fff" stroke="#2e2e2e" stroke-width="0.9"><path d="M-9.5,-7.0 Q-9.5,-9.5 -6.5,-9.5 L6.5,-9.5 Q9.5,-9.5 9.5,-7.0 L9.5,5.0 Q9.5,10.0 0,10.0 Q-9.5,10.0 -9.5,5.0 Z"/><path d="M-9.0,-10.3 Q0,-13.2 9.0,-10.3 Q0,-15.2 -9.0,-10.3 Z" stroke-width="0.8"/></g>
<g transform="translate(365.0,894.6) rotate(90)" fill="#fff" stroke="#2e2e2e" stroke-width="0.9"><path d="M-9.5,-7.0 Q-9.5,-9.5 -6.5,-9.5 L6.5,-9.5 Q9.5,-9.5 9.5,-7.0 L9.5,5.0 Q9.5,10.0 0,10.0 Q-9.5,10.0 -9.5,5.0 Z"/><path d="M-9.0,-10.3 Q0,-13.2 9.0,-10.3 Q0,-15.2 -9.0,-10.3 Z" stroke-width="0.8"/></g>
<g transform="translate(354.4,1022.2) rotate(-90)" fill="#fff" stroke="#2e2e2e" stroke-width="0.9"><path d="M-11.5,-5.5 Q-11.5,-12.0 0,-12.0 Q11.5,-12.0 11.5,-5.5 L11.5,7.5 Q11.5,11.5 7.5,11.5 L-7.5,11.5 Q-11.5,11.5 -11.5,7.5 Z"/><path d="M-9.0,-5.5 L-9.0,10.5 M9.0,-5.5 L9.0,10.5 M-9.0,-5.5 Q0,-2.5 9.0,-5.5" fill="none" stroke-width="0.8"/></g>
<g transform="translate(415.0,1007.8) rotate(90)" fill="#fff" stroke="#2e2e2e" stroke-width="0.9"><path d="M-11.5,-5.5 Q-11.5,-12.0 0,-12.0 Q11.5,-12.0 11.5,-5.5 L11.5,7.5 Q11.5,11.5 7.5,11.5 L-7.5,11.5 Q-11.5,11.5 -11.5,7.5 Z"/><path d="M-9.0,-5.5 L-9.0,10.5 M9.0,-5.5 L9.0,10.5 M-9.0,-5.5 Q0,-2.5 9.0,-5.5" fill="none" stroke-width="0.8"/></g>
<g transform="translate(415.0,1038.0) rotate(90)" fill="#fff" stroke="#2e2e2e" stroke-width="0.9"><path d="M-11.5,-5.5 Q-11.5,-12.0 0,-12.0 Q11.5,-12.0 11.5,-5.5 L11.5,7.5 Q11.5,11.5 7.5,11.5 L-7.5,11.5 Q-11.5,11.5 -11.5,7.5 Z"/><path d="M-9.0,-5.5 L-9.0,10.5 M9.0,-5.5 L9.0,10.5 M-9.0,-5.5 Q0,-2.5 9.0,-5.5" fill="none" stroke-width="0.8"/></g>
<g transform="translate(344.6,1099.1) rotate(0)" fill="#fff" stroke="#2e2e2e" stroke-width="0.9"><path d="M-11.5,-5.5 Q-11.5,-12.0 0,-12.0 Q11.5,-12.0 11.5,-5.5 L11.5,7.5 Q11.5,11.5 7.5,11.5 L-7.5,11.5 Q-11.5,11.5 -11.5,7.5 Z"/><path d="M-9.0,-5.5 L-9.0,10.5 M9.0,-5.5 L9.0,10.5 M-9.0,-5.5 Q0,-2.5 9.0,-5.5" fill="none" stroke-width="0.8"/></g>
<g transform="translate(372.6,1099.1) rotate(0)" fill="#fff" stroke="#2e2e2e" stroke-width="0.9"><path d="M-11.5,-5.5 Q-11.5,-12.0 0,-12.0 Q11.5,-12.0 11.5,-5.5 L11.5,7.5 Q11.5,11.5 7.5,11.5 L-7.5,11.5 Q-11.5,11.5 -11.5,7.5 Z"/><path d="M-9.0,-5.5 L-9.0,10.5 M9.0,-5.5 L9.0,10.5 M-9.0,-5.5 Q0,-2.5 9.0,-5.5" fill="none" stroke-width="0.8"/></g>
<g transform="translate(402.2,1099.1) rotate(0)" fill="#fff" stroke="#2e2e2e" stroke-width="0.9"><path d="M-11.5,-5.5 Q-11.5,-12.0 0,-12.0 Q11.5,-12.0 11.5,-5.5 L11.5,7.5 Q11.5,11.5 7.5,11.5 L-7.5,11.5 Q-11.5,11.5 -11.5,7.5 Z"/><path d="M-9.0,-5.5 L-9.0,10.5 M9.0,-5.5 L9.0,10.5 M-9.0,-5.5 Q0,-2.5 9.0,-5.5" fill="none" stroke-width="0.8"/></g>
<g transform="translate(431.8,1099.1) rotate(0)" fill="#fff" stroke="#2e2e2e" stroke-width="0.9"><path d="M-11.5,-5.5 Q-11.5,-12.0 0,-12.0 Q11.5,-12.0 11.5,-5.5 L11.5,7.5 Q11.5,11.5 7.5,11.5 L-7.5,11.5 Q-11.5,11.5 -11.5,7.5 Z"/><path d="M-9.0,-5.5 L-9.0,10.5 M9.0,-5.5 L9.0,10.5 M-9.0,-5.5 Q0,-2.5 9.0,-5.5" fill="none" stroke-width="0.8"/></g>
<g transform="translate(345.4,1176.4) rotate(180)" fill="#fff" stroke="#2e2e2e" stroke-width="0.9"><path d="M-11.5,-5.5 Q-11.5,-12.0 0,-12.0 Q11.5,-12.0 11.5,-5.5 L11.5,7.5 Q11.5,11.5 7.5,11.5 L-7.5,11.5 Q-11.5,11.5 -11.5,7.5 Z"/><path d="M-9.0,-5.5 L-9.0,10.5 M9.0,-5.5 L9.0,10.5 M-9.0,-5.5 Q0,-2.5 9.0,-5.5" fill="none" stroke-width="0.8"/></g>
<g transform="translate(374.2,1176.4) rotate(180)" fill="#fff" stroke="#2e2e2e" stroke-width="0.9"><path d="M-11.5,-5.5 Q-11.5,-12.0 0,-12.0 Q11.5,-12.0 11.5,-5.5 L11.5,7.5 Q11.5,11.5 7.5,11.5 L-7.5,11.5 Q-11.5,11.5 -11.5,7.5 Z"/><path d="M-9.0,-5.5 L-9.0,10.5 M9.0,-5.5 L9.0,10.5 M-9.0,-5.5 Q0,-2.5 9.0,-5.5" fill="none" stroke-width="0.8"/></g>
<g transform="translate(403.7,1176.4) rotate(180)" fill="#fff" stroke="#2e2e2e" stroke-width="0.9"><path d="M-11.5,-5.5 Q-11.5,-12.0 0,-12.0 Q11.5,-12.0 11.5,-5.5 L11.5,7.5 Q11.5,11.5 7.5,11.5 L-7.5,11.5 Q-11.5,11.5 -11.5,7.5 Z"/><path d="M-9.0,-5.5 L-9.0,10.5 M9.0,-5.5 L9.0,10.5 M-9.0,-5.5 Q0,-2.5 9.0,-5.5" fill="none" stroke-width="0.8"/></g>
<g transform="translate(432.5,1176.4) rotate(180)" fill="#fff" stroke="#2e2e2e" stroke-width="0.9"><path d="M-11.5,-5.5 Q-11.5,-12.0 0,-12.0 Q11.5,-12.0 11.5,-5.5 L11.5,7.5 Q11.5,11.5 7.5,11.5 L-7.5,11.5 Q-11.5,11.5 -11.5,7.5 Z"/><path d="M-9.0,-5.5 L-9.0,10.5 M9.0,-5.5 L9.0,10.5 M-9.0,-5.5 Q0,-2.5 9.0,-5.5" fill="none" stroke-width="0.8"/></g>
<g transform="translate(315.8,1138.2) rotate(-90)" fill="#fff" stroke="#2e2e2e" stroke-width="0.9"><path d="M-11.5,-5.5 Q-11.5,-12.0 0,-12.0 Q11.5,-12.0 11.5,-5.5 L11.5,7.5 Q11.5,11.5 7.5,11.5 L-7.5,11.5 Q-11.5,11.5 -11.5,7.5 Z"/><path d="M-9.0,-5.5 L-9.0,10.5 M9.0,-5.5 L9.0,10.5 M-9.0,-5.5 Q0,-2.5 9.0,-5.5" fill="none" stroke-width="0.8"/></g>
<g transform="translate(461.3,1137.8) rotate(90)" fill="#fff" stroke="#2e2e2e" stroke-width="0.9"><path d="M-11.5,-5.5 Q-11.5,-12.0 0,-12.0 Q11.5,-12.0 11.5,-5.5 L11.5,7.5 Q11.5,11.5 7.5,11.5 L-7.5,11.5 Q-11.5,11.5 -11.5,7.5 Z"/><path d="M-9.0,-5.5 L-9.0,10.5 M9.0,-5.5 L9.0,10.5 M-9.0,-5.5 Q0,-2.5 9.0,-5.5" fill="none" stroke-width="0.8"/></g>
<g transform="translate(485.5,397.6) rotate(0)" fill="#fff" stroke="#2e2e2e" stroke-width="0.9"><path d="M-11.5,-5.5 Q-11.5,-12.0 0,-12.0 Q11.5,-12.0 11.5,-5.5 L11.5,7.5 Q11.5,11.5 7.5,11.5 L-7.5,11.5 Q-11.5,11.5 -11.5,7.5 Z"/><path d="M-9.0,-5.5 L-9.0,10.5 M9.0,-5.5 L9.0,10.5 M-9.0,-5.5 Q0,-2.5 9.0,-5.5" fill="none" stroke-width="0.8"/></g>
<g transform="translate(469.7,457.7) rotate(180)" fill="#fff" stroke="#2e2e2e" stroke-width="0.9"><path d="M-11.5,-5.5 Q-11.5,-12.0 0,-12.0 Q11.5,-12.0 11.5,-5.5 L11.5,7.5 Q11.5,11.5 7.5,11.5 L-7.5,11.5 Q-11.5,11.5 -11.5,7.5 Z"/><path d="M-9.0,-5.5 L-9.0,10.5 M9.0,-5.5 L9.0,10.5 M-9.0,-5.5 Q0,-2.5 9.0,-5.5" fill="none" stroke-width="0.8"/></g>
<g transform="translate(500.0,457.7) rotate(180)" fill="#fff" stroke="#2e2e2e" stroke-width="0.9"><path d="M-11.5,-5.5 Q-11.5,-12.0 0,-12.0 Q11.5,-12.0 11.5,-5.5 L11.5,7.5 Q11.5,11.5 7.5,11.5 L-7.5,11.5 Q-11.5,11.5 -11.5,7.5 Z"/><path d="M-9.0,-5.5 L-9.0,10.5 M9.0,-5.5 L9.0,10.5 M-9.0,-5.5 Q0,-2.5 9.0,-5.5" fill="none" stroke-width="0.8"/></g>
<circle cx="586.6" cy="419.0" r="17.0" fill="#fff" stroke="#2e2e2e" stroke-width="0.9"/>
<g transform="translate(586.6,388.8) rotate(0)" fill="#fff" stroke="#2e2e2e" stroke-width="0.9"><path d="M-9.5,-7.0 Q-9.5,-9.5 -6.5,-9.5 L6.5,-9.5 Q9.5,-9.5 9.5,-7.0 L9.5,5.0 Q9.5,10.0 0,10.0 Q-9.5,10.0 -9.5,5.0 Z"/><path d="M-9.0,-10.3 Q0,-13.2 9.0,-10.3 Q0,-15.2 -9.0,-10.3 Z" stroke-width="0.8"/></g>
<g transform="translate(586.6,449.4) rotate(180)" fill="#fff" stroke="#2e2e2e" stroke-width="0.9"><path d="M-9.5,-7.0 Q-9.5,-9.5 -6.5,-9.5 L6.5,-9.5 Q9.5,-9.5 9.5,-7.0 L9.5,5.0 Q9.5,10.0 0,10.0 Q-9.5,10.0 -9.5,5.0 Z"/><path d="M-9.0,-10.3 Q0,-13.2 9.0,-10.3 Q0,-15.2 -9.0,-10.3 Z" stroke-width="0.8"/></g>
<g transform="translate(649.0,398.0) rotate(0)" fill="#fff" stroke="#2e2e2e" stroke-width="0.9"><path d="M-11.5,-5.5 Q-11.5,-12.0 0,-12.0 Q11.5,-12.0 11.5,-5.5 L11.5,7.5 Q11.5,11.5 7.5,11.5 L-7.5,11.5 Q-11.5,11.5 -11.5,7.5 Z"/><path d="M-9.0,-5.5 L-9.0,10.5 M9.0,-5.5 L9.0,10.5 M-9.0,-5.5 Q0,-2.5 9.0,-5.5" fill="none" stroke-width="0.8"/></g>
<g transform="translate(633.0,457.6) rotate(180)" fill="#fff" stroke="#2e2e2e" stroke-width="0.9"><path d="M-11.5,-5.5 Q-11.5,-12.0 0,-12.0 Q11.5,-12.0 11.5,-5.5 L11.5,7.5 Q11.5,11.5 7.5,11.5 L-7.5,11.5 Q-11.5,11.5 -11.5,7.5 Z"/><path d="M-9.0,-5.5 L-9.0,10.5 M9.0,-5.5 L9.0,10.5 M-9.0,-5.5 Q0,-2.5 9.0,-5.5" fill="none" stroke-width="0.8"/></g>
<g transform="translate(663.5,457.6) rotate(180)" fill="#fff" stroke="#2e2e2e" stroke-width="0.9"><path d="M-11.5,-5.5 Q-11.5,-12.0 0,-12.0 Q11.5,-12.0 11.5,-5.5 L11.5,7.5 Q11.5,11.5 7.5,11.5 L-7.5,11.5 Q-11.5,11.5 -11.5,7.5 Z"/><path d="M-9.0,-5.5 L-9.0,10.5 M9.0,-5.5 L9.0,10.5 M-9.0,-5.5 Q0,-2.5 9.0,-5.5" fill="none" stroke-width="0.8"/></g>
<circle cx="735.5" cy="399.0" r="17.0" fill="#fff" stroke="#2e2e2e" stroke-width="0.9"/>
<g transform="translate(735.5,367.6) rotate(0)" fill="#fff" stroke="#2e2e2e" stroke-width="0.9"><path d="M-9.5,-7.0 Q-9.5,-9.5 -6.5,-9.5 L6.5,-9.5 Q9.5,-9.5 9.5,-7.0 L9.5,5.0 Q9.5,10.0 0,10.0 Q-9.5,10.0 -9.5,5.0 Z"/><path d="M-9.0,-10.3 Q0,-13.2 9.0,-10.3 Q0,-15.2 -9.0,-10.3 Z" stroke-width="0.8"/></g>
<g transform="translate(735.5,429.0) rotate(180)" fill="#fff" stroke="#2e2e2e" stroke-width="0.9"><path d="M-9.5,-7.0 Q-9.5,-9.5 -6.5,-9.5 L6.5,-9.5 Q9.5,-9.5 9.5,-7.0 L9.5,5.0 Q9.5,10.0 0,10.0 Q-9.5,10.0 -9.5,5.0 Z"/><path d="M-9.0,-10.3 Q0,-13.2 9.0,-10.3 Q0,-15.2 -9.0,-10.3 Z" stroke-width="0.8"/></g>
<circle cx="790.5" cy="399.0" r="17.0" fill="#fff" stroke="#2e2e2e" stroke-width="0.9"/>
<g transform="translate(790.5,367.6) rotate(0)" fill="#fff" stroke="#2e2e2e" stroke-width="0.9"><path d="M-9.5,-7.0 Q-9.5,-9.5 -6.5,-9.5 L6.5,-9.5 Q9.5,-9.5 9.5,-7.0 L9.5,5.0 Q9.5,10.0 0,10.0 Q-9.5,10.0 -9.5,5.0 Z"/><path d="M-9.0,-10.3 Q0,-13.2 9.0,-10.3 Q0,-15.2 -9.0,-10.3 Z" stroke-width="0.8"/></g>
<g transform="translate(790.5,429.0) rotate(180)" fill="#fff" stroke="#2e2e2e" stroke-width="0.9"><path d="M-9.5,-7.0 Q-9.5,-9.5 -6.5,-9.5 L6.5,-9.5 Q9.5,-9.5 9.5,-7.0 L9.5,5.0 Q9.5,10.0 0,10.0 Q-9.5,10.0 -9.5,5.0 Z"/><path d="M-9.0,-10.3 Q0,-13.2 9.0,-10.3 Q0,-15.2 -9.0,-10.3 Z" stroke-width="0.8"/></g>
<g transform="translate(880.5,398.0) rotate(0)" fill="#fff" stroke="#2e2e2e" stroke-width="0.9"><path d="M-11.5,-5.5 Q-11.5,-12.0 0,-12.0 Q11.5,-12.0 11.5,-5.5 L11.5,7.5 Q11.5,11.5 7.5,11.5 L-7.5,11.5 Q-11.5,11.5 -11.5,7.5 Z"/><path d="M-9.0,-5.5 L-9.0,10.5 M9.0,-5.5 L9.0,10.5 M-9.0,-5.5 Q0,-2.5 9.0,-5.5" fill="none" stroke-width="0.8"/></g>
<g transform="translate(866.0,457.6) rotate(180)" fill="#fff" stroke="#2e2e2e" stroke-width="0.9"><path d="M-11.5,-5.5 Q-11.5,-12.0 0,-12.0 Q11.5,-12.0 11.5,-5.5 L11.5,7.5 Q11.5,11.5 7.5,11.5 L-7.5,11.5 Q-11.5,11.5 -11.5,7.5 Z"/><path d="M-9.0,-5.5 L-9.0,10.5 M9.0,-5.5 L9.0,10.5 M-9.0,-5.5 Q0,-2.5 9.0,-5.5" fill="none" stroke-width="0.8"/></g>
<g transform="translate(896.6,457.6) rotate(180)" fill="#fff" stroke="#2e2e2e" stroke-width="0.9"><path d="M-11.5,-5.5 Q-11.5,-12.0 0,-12.0 Q11.5,-12.0 11.5,-5.5 L11.5,7.5 Q11.5,11.5 7.5,11.5 L-7.5,11.5 Q-11.5,11.5 -11.5,7.5 Z"/><path d="M-9.0,-5.5 L-9.0,10.5 M9.0,-5.5 L9.0,10.5 M-9.0,-5.5 Q0,-2.5 9.0,-5.5" fill="none" stroke-width="0.8"/></g>
<g transform="translate(1279.7,397.6) rotate(0)" fill="#fff" stroke="#2e2e2e" stroke-width="0.9"><path d="M-11.5,-5.5 Q-11.5,-12.0 0,-12.0 Q11.5,-12.0 11.5,-5.5 L11.5,7.5 Q11.5,11.5 7.5,11.5 L-7.5,11.5 Q-11.5,11.5 -11.5,7.5 Z"/><path d="M-9.0,-5.5 L-9.0,10.5 M9.0,-5.5 L9.0,10.5 M-9.0,-5.5 Q0,-2.5 9.0,-5.5" fill="none" stroke-width="0.8"/></g>
<g transform="translate(1265.8,457.7) rotate(180)" fill="#fff" stroke="#2e2e2e" stroke-width="0.9"><path d="M-11.5,-5.5 Q-11.5,-12.0 0,-12.0 Q11.5,-12.0 11.5,-5.5 L11.5,7.5 Q11.5,11.5 7.5,11.5 L-7.5,11.5 Q-11.5,11.5 -11.5,7.5 Z"/><path d="M-9.0,-5.5 L-9.0,10.5 M9.0,-5.5 L9.0,10.5 M-9.0,-5.5 Q0,-2.5 9.0,-5.5" fill="none" stroke-width="0.8"/></g>
<g transform="translate(1295.5,457.7) rotate(180)" fill="#fff" stroke="#2e2e2e" stroke-width="0.9"><path d="M-11.5,-5.5 Q-11.5,-12.0 0,-12.0 Q11.5,-12.0 11.5,-5.5 L11.5,7.5 Q11.5,11.5 7.5,11.5 L-7.5,11.5 Q-11.5,11.5 -11.5,7.5 Z"/><path d="M-9.0,-5.5 L-9.0,10.5 M9.0,-5.5 L9.0,10.5 M-9.0,-5.5 Q0,-2.5 9.0,-5.5" fill="none" stroke-width="0.8"/></g>
<g transform="translate(965.7,438.7) rotate(0)" fill="#fff" stroke="#2e2e2e" stroke-width="0.9"><rect x="-9.5" y="-31" width="19" height="20" rx="6"/><rect x="-8" y="-29.5" width="16" height="17" rx="5" fill="none"/></g>
<g transform="translate(965.7,438.7) rotate(90)" fill="#fff" stroke="#2e2e2e" stroke-width="0.9"><rect x="-9.5" y="-31" width="19" height="20" rx="6"/><rect x="-8" y="-29.5" width="16" height="17" rx="5" fill="none"/></g>
<g transform="translate(965.7,438.7) rotate(180)" fill="#fff" stroke="#2e2e2e" stroke-width="0.9"><rect x="-9.5" y="-31" width="19" height="20" rx="6"/><rect x="-8" y="-29.5" width="16" height="17" rx="5" fill="none"/></g>
<g transform="translate(965.7,438.7) rotate(270)" fill="#fff" stroke="#2e2e2e" stroke-width="0.9"><rect x="-9.5" y="-31" width="19" height="20" rx="6"/><rect x="-8" y="-29.5" width="16" height="17" rx="5" fill="none"/></g>
<circle cx="965.7" cy="438.7" r="17" fill="#fff" stroke="#2e2e2e" stroke-width="0.9"/>
<rect x="953.7" y="426.7" width="24" height="24" fill="#fff" stroke="#2e2e2e" stroke-width="0.9"/>
<g transform="translate(1048.7,438.7) rotate(0)" fill="#fff" stroke="#2e2e2e" stroke-width="0.9"><rect x="-9.5" y="-31" width="19" height="20" rx="6"/><rect x="-8" y="-29.5" width="16" height="17" rx="5" fill="none"/></g>
<g transform="translate(1048.7,438.7) rotate(90)" fill="#fff" stroke="#2e2e2e" stroke-width="0.9"><rect x="-9.5" y="-31" width="19" height="20" rx="6"/><rect x="-8" y="-29.5" width="16" height="17" rx="5" fill="none"/></g>
<g transform="translate(1048.7,438.7) rotate(180)" fill="#fff" stroke="#2e2e2e" stroke-width="0.9"><rect x="-9.5" y="-31" width="19" height="20" rx="6"/><rect x="-8" y="-29.5" width="16" height="17" rx="5" fill="none"/></g>
<g transform="translate(1048.7,438.7) rotate(270)" fill="#fff" stroke="#2e2e2e" stroke-width="0.9"><rect x="-9.5" y="-31" width="19" height="20" rx="6"/><rect x="-8" y="-29.5" width="16" height="17" rx="5" fill="none"/></g>
<circle cx="1048.7" cy="438.7" r="17" fill="#fff" stroke="#2e2e2e" stroke-width="0.9"/>
<rect x="1036.7" y="426.7" width="24" height="24" fill="#fff" stroke="#2e2e2e" stroke-width="0.9"/>
<rect x="920.2" y="571.0" width="23.8" height="118.5" fill="#fff" stroke="#2e2e2e" stroke-width="1.0" />
<rect x="921.5" y="580.5" width="20.5" height="23.5" fill="#fff" stroke="#2e2e2e" stroke-width="1.0" />
<rect x="923.5" y="583.0" width="16.5" height="18.0" fill="#fff" stroke="#2e2e2e" stroke-width="1.0" />
<line x1="930.6" y1="571.0" x2="930.6" y2="689.5" stroke="#2e2e2e" stroke-width="1.0" stroke-dasharray="4,3"/>
<line x1="920.2" y1="610.0" x2="944.0" y2="610.0" stroke="#2e2e2e" stroke-width="1.0" stroke-dasharray="4,3"/>
<line x1="920.2" y1="631.7" x2="944.0" y2="631.7" stroke="#2e2e2e" stroke-width="1.0" />
<rect x="1094.0" y="350.5" width="36.0" height="38.0" fill="#fff" stroke="#2e2e2e" stroke-width="1.0" />
<rect x="1130.0" y="350.5" width="33.7" height="26.5" fill="#fff" stroke="#2e2e2e" stroke-width="1.0" />
<rect x="1094.0" y="388.5" width="24.0" height="34.1" fill="#fff" stroke="#2e2e2e" stroke-width="1.0" />
<rect x="1094.0" y="422.6" width="24.0" height="34.1" fill="#fff" stroke="#2e2e2e" stroke-width="1.0" />
<rect x="1094.0" y="456.7" width="36.0" height="37.0" fill="#fff" stroke="#2e2e2e" stroke-width="1.0" />
<rect x="1130.0" y="467.0" width="33.7" height="26.7" fill="#fff" stroke="#2e2e2e" stroke-width="1.0" />
<line x1="1097.0" y1="350.5" x2="1097.0" y2="493.7" stroke="#2e2e2e" stroke-width="1.0" />
<g transform="translate(1137.5,395.0) rotate(-45)" fill="#fff" stroke="#2e2e2e" stroke-width="0.9"><path d="M-11.4,-8.4 L11.4,-8.4 Q13.8,9.0 0,12.0 Q-13.8,9.0 -11.4,-8.4 Z"/></g>
<g transform="translate(1137.5,448.0) rotate(-135)" fill="#fff" stroke="#2e2e2e" stroke-width="0.9"><path d="M-11.4,-8.4 L11.4,-8.4 Q13.8,9.0 0,12.0 Q-13.8,9.0 -11.4,-8.4 Z"/></g>
<polygon points="1119.6,390.1 1131.1,378.6 1128.9,376.4 1117.4,387.9" fill="#fff" stroke="#2e2e2e" stroke-width="0.8"/>
<polygon points="1117.5,457.7 1129.0,467.7 1131.0,465.3 1119.5,455.3" fill="#fff" stroke="#2e2e2e" stroke-width="0.8"/>
<rect x="506.6" y="557.8" width="3.8" height="68.2" fill="#fff" stroke="#2e2e2e" stroke-width="1.0" />
<rect x="513.3" y="554.0" width="29.3" height="3.8" fill="#fff" stroke="#2e2e2e" stroke-width="1.0" />
<rect x="510.4" y="557.8" width="25.6" height="30.2" fill="#fff" stroke="#2e2e2e" stroke-width="1.0" />
<rect x="510.4" y="588.0" width="37.0" height="38.0" fill="#fff" stroke="#2e2e2e" stroke-width="1.0" />
<rect x="547.4" y="600.4" width="34.1" height="25.6" fill="#fff" stroke="#2e2e2e" stroke-width="1.0" />
<rect x="581.5" y="554.0" width="4.2" height="72.0" fill="#fff" stroke="#2e2e2e" stroke-width="1.0" />
<g transform="translate(556.0,581.0) rotate(-135)" fill="#fff" stroke="#2e2e2e" stroke-width="0.9"><path d="M-11.4,-8.4 L11.4,-8.4 Q13.8,9.0 0,12.0 Q-13.8,9.0 -11.4,-8.4 Z"/></g>
<polygon points="535.3,589.6 545.8,601.1 548.2,598.9 537.7,587.4" fill="#fff" stroke="#2e2e2e" stroke-width="0.8"/>
<rect x="787.2" y="557.8" width="3.8" height="68.2" fill="#fff" stroke="#2e2e2e" stroke-width="1.0" />
<rect x="755.0" y="554.0" width="29.3" height="3.8" fill="#fff" stroke="#2e2e2e" stroke-width="1.0" />
<rect x="761.6" y="557.8" width="25.6" height="30.2" fill="#fff" stroke="#2e2e2e" stroke-width="1.0" />
<rect x="750.2" y="588.0" width="37.0" height="38.0" fill="#fff" stroke="#2e2e2e" stroke-width="1.0" />
<rect x="716.1" y="600.4" width="34.1" height="25.6" fill="#fff" stroke="#2e2e2e" stroke-width="1.0" />
<rect x="711.9" y="554.0" width="4.2" height="72.0" fill="#fff" stroke="#2e2e2e" stroke-width="1.0" />
<g transform="translate(741.6,581.0) rotate(135)" fill="#fff" stroke="#2e2e2e" stroke-width="0.9"><path d="M-11.4,-8.4 L11.4,-8.4 Q13.8,9.0 0,12.0 Q-13.8,9.0 -11.4,-8.4 Z"/></g>
<polygon points="759.9,587.4 749.4,598.9 751.8,601.1 762.3,589.6" fill="#fff" stroke="#2e2e2e" stroke-width="0.8"/>
<rect x="791.4" y="635.5" width="25.6" height="26.5" fill="#fff" stroke="#2e2e2e" stroke-width="1.0" />
<line x1="796.5" y1="635.5" x2="796.5" y2="662.0" stroke="#2e2e2e" stroke-width="1.0" />
<line x1="796.5" y1="638.5" x2="817.0" y2="638.5" stroke="#2e2e2e" stroke-width="1.0" />
<line x1="796.5" y1="659.0" x2="817.0" y2="659.0" stroke="#2e2e2e" stroke-width="1.0" />
<circle cx="807.0" cy="672.0" r="7.0" fill="#fff" stroke="#2e2e2e" stroke-width="0.9"/>
<rect x="791.4" y="683.0" width="25.6" height="23.6" fill="#fff" stroke="#2e2e2e" stroke-width="1.0" />
<line x1="796.5" y1="683.0" x2="796.5" y2="706.6" stroke="#2e2e2e" stroke-width="1.0" />
<line x1="796.5" y1="686.0" x2="817.0" y2="686.0" stroke="#2e2e2e" stroke-width="1.0" />
<line x1="796.5" y1="703.5" x2="817.0" y2="703.5" stroke="#2e2e2e" stroke-width="1.0" />
<rect x="685.7" y="674.0" width="31.3" height="33.5" fill="#fff" stroke="#2e2e2e" stroke-width="1.0" />
<line x1="685.7" y1="677.5" x2="717.0" y2="677.5" stroke="#2e2e2e" stroke-width="1.0" />
<rect x="717.0" y="683.8" width="69.0" height="23.7" fill="#fff" stroke="#2e2e2e" stroke-width="1.0" />
<rect x="723.6" y="686.7" width="22.8" height="18.9" fill="#fff" stroke="#2e2e2e" stroke-width="1.0" />
<rect x="726.0" y="689.0" width="18.0" height="14.0" fill="#fff" stroke="#2e2e2e" stroke-width="1.0" />
<line x1="717.0" y1="697.0" x2="786.0" y2="697.0" stroke="#2e2e2e" stroke-width="1.0" stroke-dasharray="4,3"/>
<rect x="588.0" y="667.0" width="23.8" height="24.4" fill="#fff" stroke="#2e2e2e" stroke-width="1.0" />
<path d="M591.8,669.9 L591.8,688.5 M608.0,669.9 L608.0,688.5 M591.8,679.2 L608.0,679.2" stroke="#2e2e2e" stroke-width="0.9" fill="none"/>
<rect x="588.0" y="691.4" width="4.0" height="16.9" fill="#fff" stroke="#2e2e2e" stroke-width="1.0" />
<rect x="604.3" y="712.0" width="3.0" height="282.5" fill="#fff" stroke="#2e2e2e" stroke-width="1.0" />
<rect x="570.2" y="712.0" width="34.1" height="36.4" fill="#fff" stroke="#2e2e2e" stroke-width="1.0" />
<rect x="581.6" y="748.4" width="22.7" height="34.1" fill="#fff" stroke="#2e2e2e" stroke-width="1.0" />
<rect x="581.6" y="782.5" width="22.7" height="34.1" fill="#fff" stroke="#2e2e2e" stroke-width="1.0" />
<rect x="570.2" y="816.6" width="34.1" height="34.8" fill="#fff" stroke="#2e2e2e" stroke-width="1.0" />
<rect x="570.2" y="856.0" width="34.1" height="33.3" fill="#fff" stroke="#2e2e2e" stroke-width="1.0" />
<rect x="581.6" y="889.3" width="22.7" height="34.0" fill="#fff" stroke="#2e2e2e" stroke-width="1.0" />
<rect x="581.6" y="923.3" width="22.7" height="34.7" fill="#fff" stroke="#2e2e2e" stroke-width="1.0" />
<rect x="570.2" y="958.0" width="34.1" height="36.5" fill="#fff" stroke="#2e2e2e" stroke-width="1.0" />
<rect x="535.4" y="712.0" width="34.8" height="25.0" fill="#fff" stroke="#2e2e2e" stroke-width="1.0" />
<rect x="535.4" y="828.7" width="34.8" height="22.7" fill="#fff" stroke="#2e2e2e" stroke-width="1.0" />
<rect x="535.4" y="856.0" width="34.8" height="22.7" fill="#fff" stroke="#2e2e2e" stroke-width="1.0" />
<rect x="535.4" y="969.5" width="34.8" height="25.0" fill="#fff" stroke="#2e2e2e" stroke-width="1.0" />
<g transform="translate(562.5,756.0) rotate(45)" fill="#fff" stroke="#2e2e2e" stroke-width="0.9"><path d="M-11.4,-8.4 L11.4,-8.4 Q13.8,9.0 0,12.0 Q-13.8,9.0 -11.4,-8.4 Z"/></g>
<g transform="translate(562.5,810.5) rotate(135)" fill="#fff" stroke="#2e2e2e" stroke-width="0.9"><path d="M-11.4,-8.4 L11.4,-8.4 Q13.8,9.0 0,12.0 Q-13.8,9.0 -11.4,-8.4 Z"/></g>
<g transform="translate(562.5,896.8) rotate(45)" fill="#fff" stroke="#2e2e2e" stroke-width="0.9"><path d="M-11.4,-8.4 L11.4,-8.4 Q13.8,9.0 0,12.0 Q-13.8,9.0 -11.4,-8.4 Z"/></g>
<g transform="translate(562.5,951.3) rotate(135)" fill="#fff" stroke="#2e2e2e" stroke-width="0.9"><path d="M-11.4,-8.4 L11.4,-8.4 Q13.8,9.0 0,12.0 Q-13.8,9.0 -11.4,-8.4 Z"/></g>
<polygon points="569.4,738.6 580.4,749.6 582.6,747.4 571.6,736.4" fill="#fff" stroke="#2e2e2e" stroke-width="0.8"/>
<polygon points="571.6,817.6 582.6,806.6 580.4,804.4 569.4,815.4" fill="#fff" stroke="#2e2e2e" stroke-width="0.8"/>
<polygon points="569.4,879.6 580.4,890.6 582.6,888.4 571.6,877.4" fill="#fff" stroke="#2e2e2e" stroke-width="0.8"/>
<polygon points="571.6,970.6 582.6,959.6 580.4,957.4 569.4,968.4" fill="#fff" stroke="#2e2e2e" stroke-width="0.8"/>
<rect x="1138.0" y="636.6" width="3.7" height="73.4" fill="#fff" stroke="#2e2e2e" stroke-width="1.0" />
<rect x="1141.7" y="636.6" width="21.9" height="34.8" fill="#fff" stroke="#2e2e2e" stroke-width="1.0" />
<rect x="1141.7" y="671.4" width="32.9" height="36.6" fill="#fff" stroke="#2e2e2e" stroke-width="1.0" />
<rect x="1174.6" y="683.3" width="33.9" height="24.7" fill="#fff" stroke="#2e2e2e" stroke-width="1.0" />
<g transform="translate(1182.0,664.0) rotate(-135)" fill="#fff" stroke="#2e2e2e" stroke-width="0.9"><path d="M-11.4,-8.4 L11.4,-8.4 Q13.8,9.0 0,12.0 Q-13.8,9.0 -11.4,-8.4 Z"/></g>
<polygon points="1162.6,672.7 1173.2,684.1 1175.6,681.9 1165.0,670.5" fill="#fff" stroke="#2e2e2e" stroke-width="0.8"/>
<line x1="940.0" y1="708.3" x2="983.0" y2="708.3" stroke="#111" stroke-width="1.6" stroke-dasharray="5,3"/>
<line x1="1264.4" y1="708.8" x2="1310.0" y2="708.8" stroke="#111" stroke-width="1.6" stroke-dasharray="5,3"/>
<polygon points="125.5,1374.4 293.5,1374.4 293.5,1432 178.5,1432 178.5,1479.4 159.7,1479.4 159.7,1513.7 125.5,1513.7" fill="#ababab" stroke="#222" stroke-width="1"/>
<polygon points="123.3,1372 445.2,1372 445.2,1482 548.5,1482 548.5,1635.2 280.2,1635.2 280.2,1608 252.7,1608 252.7,1516 123.3,1516" fill="none" stroke="#3a3a3a" stroke-width="3.4"/>
<polygon points="123.3,1372 445.2,1372 445.2,1482 548.5,1482 548.5,1635.2 280.2,1635.2 280.2,1608 252.7,1608 252.7,1516 123.3,1516" fill="none" stroke="#e0e0e0" stroke-width="1"/>
<path d="M548.5,1509.5 L575,1509.5 L575,1608.5 L548.5,1608.5" fill="none" stroke="#3a3a3a" stroke-width="3.2"/>
<path d="M548.5,1509.5 L575,1509.5 L575,1608.5 L548.5,1608.5" fill="none" stroke="#e0e0e0" stroke-width="1"/>
<rect x="125.7" y="1374" width="4" height="4" fill="#fff" stroke="#3a3a3a" stroke-width="1"/>
<rect x="175.4" y="1374" width="4" height="4" fill="#fff" stroke="#3a3a3a" stroke-width="1"/>
<rect x="228.5" y="1374" width="4" height="4" fill="#fff" stroke="#3a3a3a" stroke-width="1"/>
<rect x="281.6" y="1374" width="4" height="4" fill="#fff" stroke="#3a3a3a" stroke-width="1"/>
<rect x="334.6" y="1374" width="4" height="4" fill="#fff" stroke="#3a3a3a" stroke-width="1"/>
<rect x="387.7" y="1374" width="4" height="4" fill="#fff" stroke="#3a3a3a" stroke-width="1"/>
<rect x="440.7" y="1374" width="4" height="4" fill="#fff" stroke="#3a3a3a" stroke-width="1"/>
<rect x="175.4" y="1425.5" width="4" height="4" fill="#fff" stroke="#3a3a3a" stroke-width="1"/>
<rect x="228.5" y="1428.7" width="4" height="4" fill="#fff" stroke="#3a3a3a" stroke-width="1"/>
<rect x="281.6" y="1428.7" width="4" height="4" fill="#fff" stroke="#3a3a3a" stroke-width="1"/>
<rect x="334.6" y="1428.7" width="4" height="4" fill="#fff" stroke="#3a3a3a" stroke-width="1"/>
<rect x="387.7" y="1428.7" width="4" height="4" fill="#fff" stroke="#3a3a3a" stroke-width="1"/>
<rect x="440.7" y="1428.7" width="4" height="4" fill="#fff" stroke="#3a3a3a" stroke-width="1"/>
<rect x="125.7" y="1428.7" width="4" height="4" fill="#fff" stroke="#3a3a3a" stroke-width="1"/>
<rect x="125.7" y="1483" width="4" height="4" fill="#fff" stroke="#3a3a3a" stroke-width="1"/>
<rect x="125.7" y="1510.6" width="4" height="4" fill="#fff" stroke="#3a3a3a" stroke-width="1"/>
<rect x="175.4" y="1510.6" width="4" height="4" fill="#fff" stroke="#3a3a3a" stroke-width="1"/>
<rect x="228.5" y="1510.6" width="4" height="4" fill="#fff" stroke="#3a3a3a" stroke-width="1"/>
<rect x="281.6" y="1510.6" width="4" height="4" fill="#fff" stroke="#3a3a3a" stroke-width="1"/>
<rect x="440.7" y="1483" width="4" height="4" fill="#fff" stroke="#3a3a3a" stroke-width="1"/>
<rect x="334.6" y="1483" width="4" height="4" fill="#fff" stroke="#3a3a3a" stroke-width="1"/>
<rect x="440.7" y="1543.6" width="4" height="4" fill="#fff" stroke="#3a3a3a" stroke-width="1"/>
<rect x="491.2" y="1543.6" width="4" height="4" fill="#fff" stroke="#3a3a3a" stroke-width="1"/>
<rect x="491.2" y="1482.5" width="4" height="4" fill="#fff" stroke="#3a3a3a" stroke-width="1"/>
<rect x="542.5" y="1482.5" width="4" height="4" fill="#fff" stroke="#3a3a3a" stroke-width="1"/>
<rect x="252.8" y="1602" width="4" height="4" fill="#fff" stroke="#3a3a3a" stroke-width="1"/>
<rect x="281.6" y="1602" width="4" height="4" fill="#fff" stroke="#3a3a3a" stroke-width="1"/>
<rect x="281.6" y="1629.5" width="4" height="4" fill="#fff" stroke="#3a3a3a" stroke-width="1"/>
<rect x="334.6" y="1629.5" width="4" height="4" fill="#fff" stroke="#3a3a3a" stroke-width="1"/>
<rect x="387.7" y="1629.5" width="4" height="4" fill="#fff" stroke="#3a3a3a" stroke-width="1"/>
<rect x="440.7" y="1629.5" width="4" height="4" fill="#fff" stroke="#3a3a3a" stroke-width="1"/>
<rect x="491.2" y="1629.5" width="4" height="4" fill="#fff" stroke="#3a3a3a" stroke-width="1"/>
<rect x="542.5" y="1629.5" width="4" height="4" fill="#fff" stroke="#3a3a3a" stroke-width="1"/>
<rect x="542.5" y="1545" width="4" height="4" fill="#fff" stroke="#3a3a3a" stroke-width="1"/>
<rect x="542.5" y="1602" width="4" height="4" fill="#fff" stroke="#3a3a3a" stroke-width="1"/>
<path d="M178.5,1432 L213,1432 M215,1432 l3,-3 l2,4 l3,-4 L228,1432 L250,1432 l3,-3 l3,4 l3,-4 L262,1432 L293.5,1432 L297,1432 l3,-4 l2,4 L320,1432 l3,-4 l3,4 L337,1432 M178.5,1432 L178.5,1450.6 L214,1450.6 L214,1444 L285,1444 l3,-4 l3,4 L323.4,1444 M214,1432 l-2,5 l3,4 l-3,5 M286.9,1444 L323.4,1444 L323.4,1470.5 L286.9,1470.5 Z M288.5,1446 L321.8,1446 L321.8,1469 L288.5,1469 Z M323.4,1470.5 L323.4,1560 L458.6,1560 L458.6,1563.5 M323.4,1563.5 L345,1563.5 l3,-4 l3,4 L458.6,1563.5 M336.5,1444 L364.2,1444 L364.2,1459.5 M334.4,1459.5 L390.8,1459.5 L390.8,1486 L334.4,1486 Z M362.5,1459.5 L362.5,1486 M335.5,1486 L335.5,1500 L352,1500 M389.2,1486 L389.2,1547.6 L458.6,1547.6 L458.6,1567 L493.8,1567 L493.8,1547.6 L458.6,1547.6 M323.4,1505 l-4,3 l4,3 M352,1547.6 a5,5 0 0 0 10,0 a5,5 0 0 0 10,0" fill="none" stroke="#111" stroke-width="1.1"/>
<path d="M190.0,1434 L190.0,1450 M193.2,1434 L193.2,1450 M196.4,1434 L196.4,1450 M199.6,1434 L199.6,1450 M202.8,1434 L202.8,1450 M206.0,1434 L206.0,1450 M470.5,1549.5 L470.5,1556 M470.5,1558.5 L470.5,1565.5 M473.6,1549.5 L473.6,1556 M473.6,1558.5 L473.6,1565.5 M476.7,1549.5 L476.7,1556 M476.7,1558.5 L476.7,1565.5 M479.8,1549.5 L479.8,1556 M479.8,1558.5 L479.8,1565.5 M482.9,1549.5 L482.9,1556 M482.9,1558.5 L482.9,1565.5 M486.0,1549.5 L486.0,1556 M486.0,1558.5 L486.0,1565.5 M468,1557.2 L487,1557.2 M186,1441 L207,1441" fill="none" stroke="#222" stroke-width="0.8"/>
<rect x="337.7" y="1512.6" width="14" height="16" fill="#fff" stroke="#111" stroke-width="1.2"/>
<path d="M339.7,1514.6 L349.7,1526.6 M349.7,1514.6 L339.7,1526.6" stroke="#222" stroke-width="0.8"/>
<rect x="337.7" y="1529" width="14" height="16" fill="#fff" stroke="#111" stroke-width="1.2"/>
<path d="M339.7,1531 L349.7,1543 M349.7,1531 L339.7,1543" stroke="#222" stroke-width="0.8"/>
<rect x="373" y="1495" width="14" height="16" fill="#fff" stroke="#111" stroke-width="1.2"/>
<path d="M375,1497 L385,1509 M385,1497 L375,1509" stroke="#222" stroke-width="0.8"/>
<rect x="373" y="1512" width="14" height="16" fill="#fff" stroke="#111" stroke-width="1.2"/>
<path d="M375,1514 L385,1526 M385,1514 L375,1526" stroke="#222" stroke-width="0.8"/>
<rect x="373" y="1529" width="14" height="16" fill="#fff" stroke="#111" stroke-width="1.2"/>
<path d="M375,1531 L385,1543 M385,1531 L375,1543" stroke="#222" stroke-width="0.8"/>
<path d="M345,1462 l4,6 l-3,6 M378,1462 l-4,6 l3,6 M352,1470 l6,0 M352,1476 l6,0 M366,1470 l6,0" stroke="#222" stroke-width="0.8" fill="none"/>
<rect x="337" y="1461" width="7" height="8" fill="#fff" stroke="#111" stroke-width="0.8"/><rect x="311" y="1448" width="6" height="7" fill="#fff" stroke="#111" stroke-width="0.8"/>
<path d="M315,1471 l10,0 l-5,4 l5,4 l-10,0 l5,-4 z" fill="#fff" stroke="#111" stroke-width="0.9"/>
<path d="M548.5,1537 a6,6 0 0 0 -6,6 l6,0 M548.5,1596 a6,6 0 0 0 -6,6 l6,0" fill="#fff" stroke="#222" stroke-width="0.9"/>
</svg>
</body></html>
